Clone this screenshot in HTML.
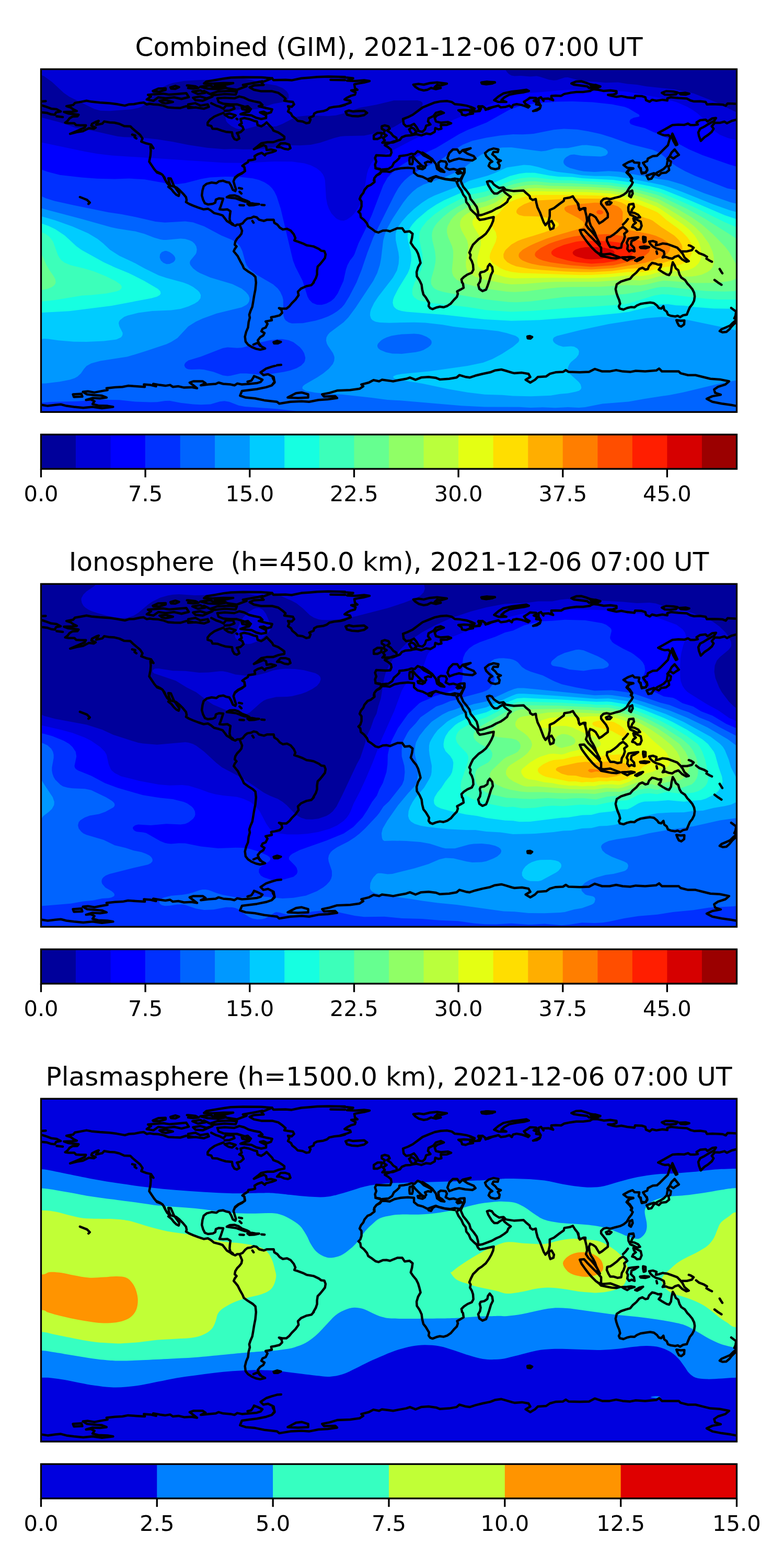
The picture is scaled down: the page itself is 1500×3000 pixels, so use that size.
<!DOCTYPE html>
<html lang="en"><head><meta charset="utf-8"><title>GIM TEC maps 2021-12-06 07:00 UT</title>
<style>
html,body{margin:0;padding:0;background:#fff}
body{width:1500px;height:3000px;overflow:hidden}
svg{display:block}
text{font-family:"DejaVu Sans","Liberation Sans",sans-serif;fill:#000}
.t{font-size:50px;text-anchor:middle}
.k{font-size:41.667px;text-anchor:middle}
.c{fill:none;stroke:#000;stroke-width:4.5;stroke-linejoin:round;stroke-linecap:round}
.f{fill:none;stroke:#000;stroke-width:3.33;stroke-linejoin:miter}
.tk{stroke:#000;stroke-width:3.33}
</style></head><body>
<svg width="1500" height="3000" viewBox="0 0 1500 3000">
<defs>
<clipPath id="mc"><rect x="78.5" y="0" width="1331.0" height="655.9"/></clipPath>
<path id="coast" class="c" d="M79.8,61.5 87.5,61.1M79.8,69.2 88.6,72.0 98.0,75.5 108.4,76.7 116.1,80.9 107.3,82.5 104.9,87.1 98.0,86.4 89.8,83.6 79.8,82.5M108.4,90.2 120.1,91.6M370.0,73.2 356.5,70.8 344.9,74.3 333.2,73.9 321.6,73.2 312.3,69.7 302.9,67.8 293.6,67.3 286.6,66.2 280.8,67.3 275.0,63.8 268.0,64.5 256.3,66.9 247.0,67.3 238.9,69.7 223.7,66.9 209.8,65.0 191.1,63.8 174.8,62.2 165.5,60.4 156.2,62.2 143.4,64.5 139.9,68.5 127.1,70.8 135.2,73.2 139.9,76.7 146.9,80.2 137.6,81.3 122.4,81.8 130.6,84.8 142.2,86.0 150.4,87.1 148.0,90.2 138.7,90.6 132.9,94.1 129.4,98.8 124.7,102.3 131.7,103.4 142.2,103.4 145.7,106.9 153.9,107.4 164.3,107.4 162.0,111.6 151.5,116.3 143.4,119.8 134.1,123.7 146.9,120.4 158.5,118.6 170.2,112.8 179.5,113.9 183.0,111.6 174.8,108.1 176.0,104.6 184.1,100.4 188.8,98.8 186.5,102.3 184.1,106.5 195.8,104.1 199.3,100.0 209.8,101.8 219.1,102.3 228.4,104.6 237.7,108.8 249.4,109.3 254.0,113.9 261.0,119.8 268.0,125.6 272.7,132.6 270.3,138.4 279.6,141.9 289.0,144.2 293.6,151.2 287.8,147.7 288.5,155.9 287.8,165.2 285.5,176.8 290.1,183.8 294.8,190.8 300.6,197.8 309.9,201.3 314.6,207.1 316.9,212.9M252.9,125.1 258.7,126.7 257.5,130.2 261.0,132.6M292.5,41.7 302.9,37.1 316.9,36.6 316.9,39.4 305.3,42.9 293.6,42.9ZM326.2,34.7 335.5,31.9 342.5,34.3 335.5,37.5 327.4,37.1ZM283.1,49.2 293.6,48.2 312.3,46.8 323.9,48.7 337.9,47.5 356.5,45.9 361.2,53.4 347.2,56.9 333.2,53.8 316.9,55.7 302.9,53.8 293.6,60.4 280.8,58.0 289.0,52.2ZM305.3,60.4 316.9,59.2 330.9,62.7 316.9,65.5 309.9,63.8ZM357.7,31.2 370.0,32.4M427.6,83.6 418.2,87.1 410.1,90.6 401.9,96.5 397.3,102.3 397.3,106.9 404.3,108.8 406.6,113.9 415.9,114.4 424.1,117.4 432.2,119.8 443.9,120.9 445.0,127.9 448.5,133.7 453.2,135.4 457.8,132.6 455.5,125.6 453.2,122.1 460.2,120.4 466.0,115.1 463.7,109.3 457.8,106.5 462.5,103.4 460.2,95.3 467.2,93.4 476.5,95.3 485.8,98.8 491.6,100.0 492.8,106.9 499.8,109.3 505.6,105.8 510.2,101.8 514.9,106.9 520.7,112.8 523.1,117.4 532.4,120.9 539.4,125.6 544.0,129.1 544.0,133.7 532.4,136.1 523.1,139.6 511.4,139.6 499.8,141.9 492.8,147.7 485.8,153.1 495.1,149.3 504.4,145.4 509.1,147.7 510.2,154.7 518.4,153.5 527.7,155.9 520.7,158.7 509.1,161.7 506.8,164.7 500.9,160.0 492.8,162.8 487.0,166.3 488.1,172.2 483.5,173.3 475.3,174.5 474.1,178.0 468.3,181.5 463.7,185.0 467.6,187.3 468.3,195.5 462.5,198.9 455.5,202.4 449.7,207.1 447.4,212.9M530.0,148.9 537.0,141.9 546.3,141.9 553.3,144.2 555.7,151.2 551.0,153.5 544.0,152.4 537.0,149.3ZM441.5,16.1 464.8,15.4 499.8,15.6 520.7,17.3 523.1,20.8 546.3,20.3 558.0,21.2 576.6,17.3 592.9,16.1 606.9,14.9 627.9,14.2 660.0,14.9M632.5,20.3 660.0,20.8M520.7,17.3 509.1,21.9 499.8,25.4 504.4,30.1 485.8,31.2 477.6,34.7 485.8,39.4 499.8,42.2 520.7,42.2 532.4,45.2 540.5,51.0 546.3,56.2 544.0,60.4 551.0,61.5 560.3,62.7 562.7,67.3 558.0,72.0 551.0,70.8 553.3,75.5 551.0,80.9 556.8,84.8 559.2,89.5 565.0,94.1 569.6,98.8 579.0,100.0 585.9,103.4 591.8,102.3 594.1,96.5 591.8,93.0 599.9,89.5 601.1,84.8 606.9,81.8 618.6,80.2 625.5,77.8 630.2,73.9 639.5,72.0 651.2,70.8 660.0,68.5M441.5,16.1 427.6,18.0 411.2,20.8 394.9,23.5 390.3,27.3 406.6,27.7 427.6,26.6 446.2,26.6 429.9,30.1 411.2,31.2 429.9,33.6 434.5,36.6 453.2,39.4 462.5,35.9 471.8,32.4 464.8,30.1 490.4,25.4 502.1,23.1M415.9,55.7 429.9,54.5 448.5,55.7 457.8,52.2 467.2,54.5 476.5,59.2 485.8,61.5 497.4,63.8 502.1,68.5 495.1,70.8 509.1,74.3 520.7,76.7 518.4,82.5 511.4,84.8 504.4,81.3 497.4,82.5 509.1,88.3 509.1,93.4 499.8,95.3 490.4,93.0 481.1,88.3 469.5,87.1 460.2,86.0 469.5,82.5 476.5,81.3 480.0,76.2 471.8,73.2 464.8,70.8 453.2,67.3 441.5,67.3 427.6,66.2 418.2,62.7ZM360.0,31.2 374.0,32.9 379.8,35.9 369.3,37.1 360.0,35.9M383.3,33.6 401.9,31.2 413.6,35.9 432.2,35.9 418.2,38.2 397.3,37.1ZM368.2,42.9 383.3,40.6 392.6,45.2 378.6,47.5ZM390.3,41.7 401.9,47.5 415.9,42.9 436.9,41.7 453.2,42.9 450.8,48.7 429.9,47.5 406.6,49.9ZM369.3,54.5 383.3,52.2 394.9,55.7 406.6,52.2 388.0,60.4 374.0,59.2ZM360.0,67.3 374.0,65.0 383.3,69.7 397.3,67.3 399.6,72.0 390.3,75.5 374.0,73.2 360.0,74.3M404.3,65.0 413.6,69.7 420.6,72.0 427.6,75.5 432.2,69.7 446.2,69.7 448.5,75.5 439.2,79.0 429.9,79.5M462.5,73.2 474.1,70.8 478.8,75.5 471.8,77.8 463.7,76.7ZM429.9,87.1 439.2,84.8 450.8,88.3 443.9,93.4 436.9,91.8ZM452.7,94.8 454.1,95.8M650.0,14.9 664.0,16.1 675.6,17.3 664.0,21.9 680.3,22.6 696.6,21.2 707.1,22.6 696.6,25.4 684.9,27.3 678.0,28.9 679.1,35.9 683.8,39.4 672.1,40.6 680.3,44.5 679.1,48.7 671.0,51.0 664.0,54.5 659.3,58.0 669.8,60.4 671.0,63.8 661.6,67.3 650.0,70.8M661.2,81.3 667.5,79.0 675.6,80.9 684.9,80.2 696.6,79.5 702.4,83.6 696.6,87.8 684.9,90.2 673.3,89.5 664.0,87.1ZM790.9,29.6 801.4,28.2 810.7,29.6 822.4,26.6 836.3,25.4 855.0,27.7 843.3,31.2 836.3,30.1 831.7,34.3 843.3,35.9 834.0,38.2 824.7,35.9 817.7,39.4 810.7,40.6 801.4,38.2 794.4,33.6ZM921.4,25.4 931.9,24.2 947.0,25.4 936.5,28.2 927.2,28.2ZM771.1,95.3 780.4,91.8 789.8,87.1 799.1,80.2 808.4,73.2 820.0,68.5 831.7,63.8 843.3,61.5 855.0,60.8 864.3,62.7 870.1,66.9 880.6,67.8 892.3,69.7 901.6,72.5 908.1,75.5 901.6,78.5 887.6,77.8 877.1,78.5 882.9,82.5 884.1,87.1 891.1,88.3 896.9,86.0 905.1,84.8 899.2,81.8 908.6,80.9 917.9,80.2 920.2,75.5 915.5,70.8 924.9,72.0 929.5,75.5 933.0,76.7 941.2,73.2 950.0,70.8M771.1,95.3 772.3,104.6 777.0,109.3 785.1,108.1 792.1,104.6 796.8,110.4 801.4,118.6 808.4,119.8 813.1,115.1 815.4,108.1 823.5,105.8 818.9,100.0 820.0,94.1 829.4,89.5 834.0,83.6 843.3,80.9 849.2,83.6 836.3,88.3 831.7,93.0 834.0,100.0 843.3,102.3 857.3,101.1 863.1,103.4 855.0,106.5 843.3,106.9 844.5,113.9 838.7,115.1 832.9,112.8 831.7,119.8 823.5,124.4 815.4,123.2 806.1,126.7 796.8,124.4 789.8,125.6 785.1,119.8 782.8,115.1 787.4,111.6 792.1,113.9 796.8,119.8 789.8,125.6 785.1,126.7 775.8,127.4 768.8,130.2 765.3,134.9 759.5,137.2 752.5,138.4 743.2,141.9 736.2,145.4 742.0,148.9 747.8,153.5 749.0,159.4 746.7,165.2 738.5,165.6 729.2,165.2 719.9,164.7 717.6,169.8 719.9,176.8 717.6,182.6 718.7,189.6 726.9,190.8 730.4,195.5 726.9,200.1 719.9,203.6 716.4,208.3 715.2,212.9M730.4,192.0 743.2,190.8 750.2,186.1 753.7,179.1 759.5,174.5 764.1,169.8 764.1,166.3 773.5,165.2 780.4,164.0 787.4,161.7 793.3,162.8 799.1,157.0 804.9,159.4 810.7,165.2 817.7,168.7 825.9,173.3 824.7,178.0 818.9,176.8 813.1,179.1 815.4,183.8 810.7,189.6 807.2,185.0 801.4,179.1 794.4,172.2 789.8,166.3M799.1,186.1 808.4,185.0 813.1,188.5 808.4,191.3 800.2,189.6ZM783.9,168.7 789.3,167.5 789.8,176.8 788.6,181.9 783.9,181.5 783.2,174.5ZM808.4,159.4 817.7,165.2 827.0,172.2 834.0,181.5 836.3,190.8 843.3,195.5 850.3,196.6 845.7,192.0 839.8,188.5 838.7,179.1 843.3,175.7 852.7,176.8 855.0,181.5 852.7,188.5 859.6,192.0 867.8,190.8 874.8,193.1 880.6,190.8 888.8,190.3 888.8,197.8 885.3,204.8 881.8,212.9M859.6,160.5 866.6,153.5 874.8,153.5 879.4,160.5 885.3,154.7 900.4,151.2 887.6,157.0 894.6,161.7 906.2,166.3 909.7,171.0 903.9,174.5 889.9,173.3 878.3,171.0 869.0,173.3 859.6,176.8 856.1,169.8ZM730.4,195.5 738.5,195.5 745.5,196.6 754.8,192.0 766.5,189.6 780.4,188.5 792.1,189.6 792.1,197.8 799.1,203.6 808.4,205.9 817.7,210.6 827.0,207.1 834.0,204.8 843.3,208.3 852.7,210.6 862.0,211.8 870.1,212.9M730.4,109.3 736.2,107.4 743.2,109.3 745.5,113.9 740.8,117.4 747.8,122.1 752.5,127.9 758.3,131.4 759.5,137.2 752.5,140.0 743.2,140.7 731.5,140.7 736.2,136.1 732.7,131.4 739.7,126.7 733.9,123.2 736.2,117.4 730.4,113.9ZM715.2,126.7 722.2,122.1 730.4,122.1 729.2,130.2 722.2,133.7 715.2,133.7ZM873.6,197.8 880.6,195.5 882.9,198.3 875.9,200.1ZM921.0,25.4 930.3,24.2 946.6,24.9 941.9,27.3 930.3,28.9 922.1,27.7ZM945.4,59.2 953.6,52.2 962.9,46.4 979.2,42.9 993.2,41.3 1007.2,39.4 1011.8,41.7 1002.5,44.0 988.5,45.9 974.5,48.7 965.2,53.8 959.4,59.2 968.7,62.7 953.6,62.7ZM900.0,73.2 905.8,74.3 907.0,79.0 900.0,82.5M904.7,81.3 914.0,80.2 917.5,76.7 915.1,72.0 923.3,70.8 928.0,74.3 929.1,77.8 934.9,74.3 944.3,72.0 953.6,69.7 958.2,73.2 967.6,72.0 974.5,69.7 979.2,73.2 981.5,68.5 988.5,66.9 997.8,68.5 1004.8,70.8 1010.6,73.2 1013.0,70.8 1006.0,66.9 1002.5,62.2 1009.5,58.0 1014.1,54.5 1025.8,55.2 1025.8,59.2 1021.1,60.4 1027.0,62.7 1025.8,67.3 1033.9,68.5 1033.9,73.2 1028.1,76.7 1020.0,80.2 1027.0,79.0 1032.8,75.5 1034.6,69.7 1030.4,62.7 1030.4,55.7 1035.1,53.8 1039.8,60.4 1037.4,56.9 1049.1,56.2 1058.4,59.2 1054.9,54.5 1054.9,51.0 1063.1,50.6 1073.5,51.0 1079.4,47.5 1091.0,45.2 1102.7,43.6 1115.5,43.6 1129.4,41.7 1132.9,38.2 1144.6,39.4 1155.1,41.7 1167.9,40.6 1179.5,42.2 1179.5,46.4 1172.5,48.7 1163.2,49.2 1172.5,51.5 1179.5,52.9 1188.8,51.5 1200.0,53.8M1093.3,27.3 1102.7,23.5 1112.0,23.1 1121.3,25.9 1129.4,28.9 1142.3,31.2 1148.1,33.6 1137.6,34.7 1127.1,35.9 1123.6,32.9 1109.6,31.2 1098.0,29.6ZM928.0,160.5 934.9,154.7 944.3,151.7 953.6,153.5 952.4,158.7 944.3,158.2 941.9,162.8 947.8,167.5 951.2,172.2 958.2,175.0 952.4,178.0 955.9,183.8 954.7,189.6 947.8,191.3 939.6,189.6 934.9,185.0 937.3,179.1 941.9,176.8 936.1,172.2 930.3,166.3ZM1130.0,31.2 1139.3,30.1 1148.6,32.9 1142.8,35.9 1130.0,40.6M1200.1,53.8 1213.9,55.2 1215.0,51.0 1227.8,51.5 1234.8,53.8 1236.0,59.2 1243.0,62.2 1247.6,58.5 1255.8,60.4 1267.4,58.5 1276.8,59.9 1276.8,55.7 1283.7,53.8 1297.7,55.2 1314.0,56.2 1321.0,59.9 1328.0,61.7 1339.6,61.3 1350.1,62.7 1352.5,67.3 1362.9,66.9 1374.6,67.3 1382.7,67.8 1388.6,70.1 1392.1,65.5 1400.2,65.9 1409.5,66.4M1266.3,45.2 1274.4,42.2 1288.4,42.9 1296.6,44.5 1293.1,48.2 1281.4,49.2 1272.1,48.7ZM1300.0,45.9 1311.7,45.2 1318.7,46.8 1311.7,48.7 1302.4,48.2ZM1409.5,96.5 1400.2,98.8 1390.9,103.4 1386.2,100.4 1376.9,102.7 1367.6,102.3 1361.8,109.3 1365.3,113.9 1361.8,119.8 1354.8,125.6 1347.8,130.2 1340.8,137.2 1337.3,127.9 1336.1,120.9 1339.6,113.9 1346.6,110.4 1355.9,104.6 1366.4,98.8 1369.9,93.4 1362.9,94.1 1353.6,100.0 1350.1,96.5 1339.6,97.6 1332.7,101.8 1335.0,105.8 1328.0,106.9 1321.0,106.9 1316.3,104.1 1309.4,106.5 1297.7,106.0 1286.5,106.9 1279.1,111.1 1269.8,116.3 1259.3,122.1 1267.4,125.6 1272.1,126.7 1279.1,126.0 1282.6,130.2 1280.2,137.2 1277.9,145.4 1269.8,153.5 1262.8,160.5 1257.0,165.6 1248.8,166.3 1239.5,171.0 1238.3,175.7 1230.2,179.1 1232.5,182.6 1238.3,190.8 1236.0,197.8 1227.8,199.6 1225.5,190.8 1222.0,186.1 1223.2,179.1 1213.9,178.7 1210.4,175.0 1202.2,178.0 1192.9,183.3 1199.9,188.5 1211.5,189.6 1202.2,193.1 1198.7,197.8 1204.5,203.6 1209.2,210.6 1206.9,212.9M1286.5,123.2 1290.7,132.6 1295.9,144.2 1293.1,145.4 1288.4,137.2 1284.9,127.9ZM1290.7,153.5 1298.9,164.0 1293.1,167.5 1288.4,171.0 1281.4,166.3 1284.9,159.4ZM1281.4,166.3 1276.8,172.2 1283.7,176.8 1282.6,183.8 1279.1,186.1 1280.2,193.1 1274.4,197.8 1265.1,198.9 1260.4,203.6 1251.1,198.9 1244.1,201.3 1237.2,203.6 1240.6,210.6 1246.5,209.4 1251.1,202.4 1257.0,197.8 1263.9,194.3 1269.8,190.8 1275.6,185.0 1276.8,178.0 1277.9,172.2ZM300.0,196.0 307.0,199.4 311.6,202.9 315.1,209.9 319.8,218.1 324.5,222.7 330.3,223.9 337.3,226.2 343.1,230.9 350.1,237.9 355.9,244.9 357.1,250.7 355.9,254.2 361.7,257.7 369.9,261.2 379.2,264.7 389.7,268.2 397.8,267.0 403.7,270.5 409.5,275.2 418.8,277.5 425.8,279.8 430.4,285.6 433.9,290.3 439.8,293.8 444.4,297.3 450.2,299.6 453.7,297.3 458.4,297.3 460.7,303.1 463.1,308.9 461.9,314.8 458.4,319.4 453.7,324.1 450.2,329.9 449.1,335.7 452.6,339.2 449.1,343.9 447.2,348.5 450.2,352.0 454.9,357.8 459.6,367.2 464.2,375.3 466.6,381.1 474.7,387.0 484.0,392.8 488.7,397.4 489.8,407.9M322.1,208.8 326.8,209.2 329.1,214.6 332.6,222.7 338.4,230.9 343.1,237.9 341.9,242.5 337.3,240.2 332.6,235.6 328.0,229.7 322.1,225.1 325.6,221.6 323.3,215.8ZM467.7,187.8 468.9,194.8 463.1,199.4 456.1,202.9 449.1,208.8 446.8,214.6 449.1,222.7 451.4,229.7 450.2,233.2 445.6,230.9 442.1,222.7 438.6,216.9 432.8,215.8 427.0,213.4 418.8,214.6 414.1,218.1 404.8,216.9 395.5,219.2 389.7,223.9 387.4,232.1 386.2,241.4 388.5,249.5 392.0,256.5 397.8,258.8 407.2,257.7 411.8,255.4 413.0,249.5 418.8,247.2 427.0,247.9 424.6,255.4 422.3,262.3 420.0,268.2 427.0,268.9 435.1,268.2 440.9,271.7 439.8,279.8 439.3,286.8 440.9,292.6 445.6,296.1M458.4,297.3 464.2,295.0 468.9,289.1 473.5,285.6 480.5,284.5 485.2,282.1 491.0,283.3 495.7,288.0 505.0,290.3 510.8,288.0 523.6,288.0 524.8,293.8 530.6,297.3 535.3,303.1 541.1,306.6 549.2,305.4 556.2,308.9 562.1,315.9 565.1,322.9 563.2,327.6 570.2,329.9 579.5,333.4 586.5,336.9 593.5,338.0 600.0,339.2M482.9,290.3 485.2,293.8M433.9,244.9 439.8,241.8 449.1,241.4 456.1,243.7 463.1,248.4 472.4,251.9 477.0,254.2 467.7,253.0 460.7,250.7 451.4,247.2 442.1,246.0ZM473.5,257.7 481.7,256.5 488.7,257.7 495.7,258.1 486.3,260.0 477.0,260.5ZM458.4,260.0 466.6,260.5M500.3,259.5 506.1,260.0M457.2,227.4 463.1,228.6M458.4,234.4 461.9,237.9M152.9,244.6 159.3,247.1 166.4,249.9 171.8,255.3 169.3,257.8M600.1,339.2 610.1,343.9 614.7,347.4 620.6,348.1 622.9,354.4 621.7,361.3 617.1,367.2 612.4,373.0 607.8,377.6 606.6,385.8 606.6,392.8 604.3,399.8 599.6,407.9M718.4,189.7 730.0,192.5 727.7,198.3 720.7,202.9 716.1,208.8 716.5,215.8 709.1,221.6 703.3,223.9 697.4,230.9 695.1,236.7 690.4,242.5 688.1,248.4 691.6,253.0 691.6,262.3 689.3,269.3 685.8,272.8 689.3,276.3 690.4,283.3 696.3,288.0 702.1,295.0 704.4,300.8 711.4,305.4 718.4,310.8 724.2,312.4 732.4,308.9 739.4,308.5 746.3,310.1 753.3,307.1 760.3,304.3 769.6,304.3 774.3,311.3 783.6,310.1 789.4,314.8 788.3,322.9 785.9,332.2 790.6,339.2 796.4,346.2 799.9,353.2 802.3,361.3 804.6,370.7 799.9,378.8 797.1,388.1 797.6,396.3 802.3,403.3 804.6,407.9M824.4,214.6 827.9,208.8 833.7,205.3 841.9,207.6 851.2,209.9 860.0,211.6M820.0,213.4 824.7,214.6 828.2,208.8 832.8,205.3 841.0,207.6 850.3,209.9 861.9,211.1 870.1,209.2 880.6,211.1 884.1,205.3 887.6,197.1 888.7,191.3M873.6,215.8 877.1,223.9 882.9,232.1 886.4,240.2 891.0,246.0 892.2,254.2 896.9,260.0 900.4,268.2 906.2,274.0 912.0,279.1 914.3,284.5 917.8,288.4 927.2,286.8 936.5,284.5 944.6,282.8 943.5,290.3 940.0,298.4 935.3,306.6 929.5,314.8 922.5,320.6 915.5,325.2 909.7,331.1 905.0,335.7 901.5,342.7 898.0,350.9 900.4,355.5 899.2,361.3 902.7,367.2 905.0,374.1 905.7,383.5 902.7,389.3 894.5,392.8 887.6,397.4 882.9,402.1 884.1,407.9M873.6,215.8 880.6,211.1 882.9,216.9 886.4,225.1 892.2,232.1 898.0,240.2 900.4,248.4 906.2,255.4 912.0,263.5 914.3,271.7 915.5,279.8 922.5,278.6 931.8,275.2 941.1,271.7 949.3,267.0 957.4,263.5 964.4,258.8 970.2,254.2 972.6,248.4 977.2,244.2 971.4,240.2 965.6,235.6 962.1,230.9 956.3,234.4 951.6,237.9 945.8,237.9 941.1,233.2 937.6,227.4 934.1,221.6 931.8,215.3 936.5,213.9 941.1,215.3 944.6,220.4 949.3,223.9 955.1,227.4 963.3,226.2 967.9,230.9 983.1,233.2 1001.7,232.1 1006.3,236.7 1013.3,242.5 1014.5,247.2 1019.2,250.2 1025.0,248.4 1026.1,255.4 1028.5,264.7 1033.1,274.0 1036.6,283.3 1040.1,292.6 1043.6,298.4 1049.4,291.5 1051.8,281.0 1051.8,269.3 1059.9,265.8 1070.4,257.7 1078.6,251.9 1079.7,247.2 1090.2,245.6 1096.0,243.2 1100.7,250.7 1106.5,257.7 1107.7,267.0 1111.2,268.2 1117.0,265.8 1120.0,271.7M1050.6,292.6 1055.3,290.3 1059.9,298.4 1058.8,304.3 1052.9,306.6 1050.6,299.6ZM1120.0,265.8 1119.8,271.7 1122.1,281.0 1123.3,290.3 1121.0,297.3 1125.6,304.3 1132.6,311.3 1138.4,318.2 1143.1,325.2 1144.3,332.2 1147.8,334.6 1144.3,327.6 1140.8,320.6 1138.4,313.6 1134.9,306.6 1130.3,299.6 1128.0,292.6 1126.8,283.3 1129.1,277.5 1134.9,279.8 1139.6,283.3 1143.1,289.1 1146.6,295.0 1152.4,291.5 1158.2,286.8 1162.9,283.3 1162.9,276.3 1159.4,269.3 1154.7,263.5 1150.1,257.7 1150.1,253.0 1154.7,248.4 1160.6,247.2 1167.6,248.8 1176.9,246.0 1186.2,243.7 1193.2,240.2 1199.0,235.6 1203.7,227.4 1208.3,221.6 1210.6,216.9 1207.2,212.3 1209.5,208.8 1204.8,201.8 1200.2,198.3 1203.7,192.5 1211.8,190.1M1100.0,249.5 1104.7,255.4 1107.0,262.3 1109.3,269.3 1116.3,265.8 1120.0,265.8M1159.4,255.4 1165.2,253.0 1169.9,255.4 1166.4,258.8 1161.0,258.8ZM1204.8,234.4 1209.5,232.1 1210.6,237.9 1207.2,244.9 1203.7,242.5ZM1109.3,307.8 1117.5,307.1 1123.3,313.6 1130.3,320.6 1137.3,327.6 1144.3,334.6 1150.1,341.5 1150.1,350.9 1146.6,353.7 1139.6,348.5 1132.6,341.5 1125.6,333.4 1118.6,324.1 1112.8,315.9ZM1146.6,353.7 1155.9,354.4 1167.6,353.2 1176.9,356.7 1186.2,360.2 1179.2,362.0 1169.9,361.3 1158.2,359.0 1150.1,357.4ZM1189.7,360.2 1200.2,359.7 1207.2,359.0 1214.1,360.2 1204.8,363.0 1200.2,366.0 1193.2,362.5ZM1215.3,366.0 1223.5,361.3 1230.4,359.7 1225.8,363.7 1218.8,367.2ZM1192.0,301.9 1197.8,306.6 1200.2,310.1 1194.3,314.8 1195.5,320.6 1193.2,327.6 1189.7,333.4 1188.5,341.5 1181.5,342.7 1174.5,340.4 1167.6,340.4 1164.1,334.6 1161.0,327.6 1161.7,321.7 1167.6,320.6 1174.5,315.9 1180.4,311.3 1186.2,305.4ZM1202.5,324.1 1210.6,322.9 1221.1,321.7 1214.1,326.4 1208.3,328.7 1207.2,335.7 1213.0,341.5 1214.1,348.5 1208.3,346.2 1203.7,348.5 1200.2,343.9 1201.3,336.9 1199.0,332.2ZM1230.4,320.6 1235.1,321.7 1235.1,329.9 1231.6,331.1 1230.4,325.2ZM1224.6,340.4 1232.8,339.2 1242.1,340.4 1235.1,342.7 1225.8,342.0ZM1203.7,258.8 1211.8,257.7 1213.0,263.5 1209.5,268.2 1207.2,274.0 1214.1,275.2 1221.1,278.6 1224.6,283.3 1218.8,284.5 1211.8,281.0 1206.0,278.6 1202.5,271.7 1202.0,264.7ZM1211.8,285.6 1218.8,288.0 1225.8,291.5 1227.6,299.6 1224.6,306.6 1218.8,307.1 1214.1,303.1 1209.5,301.9 1211.8,297.3 1216.5,293.8 1213.0,290.3ZM1192.0,297.3 1196.7,292.6 1201.3,286.8M1242.1,329.9 1249.1,328.7 1256.1,331.1 1254.9,336.9 1260.7,335.7 1267.7,333.4 1277.0,334.6 1286.3,338.0 1295.7,341.5 1301.5,347.4 1306.1,353.2 1309.6,360.2 1317.8,367.2 1313.1,368.3 1305.0,363.7 1298.0,356.7 1291.0,359.0 1286.3,362.5 1279.4,361.3 1273.5,359.0 1267.7,360.2 1271.2,354.4 1270.0,348.5 1263.1,345.0 1254.9,342.7 1249.1,339.2 1244.4,334.6ZM1305.0,348.5 1314.3,348.5 1323.6,346.2 1327.1,341.5 1321.3,338.0 1317.8,336.9M1331.8,347.4 1337.6,352.0 1346.9,355.5 1352.7,359.0M1351.6,362.5 1357.4,366.0 1362.1,368.3M1256.1,348.5 1257.2,353.2M1225.8,189.0 1227.0,197.1 1233.9,198.3 1238.6,193.6 1237.4,187.8M489.9,407.8 488.5,422.1 486.2,433.7 484.3,445.4 482.7,454.7 479.2,462.8 476.9,469.8 478.0,475.6 475.7,483.8 474.5,494.3 471.0,502.4 468.7,511.7 469.9,521.1 474.5,526.9 481.5,531.5 489.7,535.0 497.8,536.7 507.2,534.3 500.2,530.4 495.5,524.6 493.2,518.7 497.8,512.9 503.7,509.4 506.0,504.8 500.2,501.3 502.5,496.6 508.3,494.3 511.8,487.3 508.3,482.6 514.1,481.5 520.0,480.3 518.8,474.5 525.8,473.3 535.1,471.0 539.8,466.3 538.6,460.5 533.9,457.0 539.8,458.2 547.9,458.2 553.7,453.5 558.4,447.7 565.4,440.7 571.2,432.5 570.0,425.6 575.9,419.7 586.3,415.1 595.7,413.2 600.3,408.1M485.0,526.9 493.2,523.4 497.8,529.2M523.5,522.2 530.4,519.9 537.4,521.8 531.6,524.6 524.6,524.6ZM804.5,407.9 806.6,412.3 807.8,421.7 810.1,431.0 814.7,436.8 818.2,442.6 821.0,447.3 820.1,453.1 822.9,457.1 827.6,458.9 834.5,456.1 841.5,454.3 848.5,455.4 855.5,453.1 862.5,448.4 868.3,441.5 874.1,435.6 876.0,429.8 874.6,425.2 881.1,421.7 887.0,418.2 885.8,410.0 883.9,407.9M937.0,372.7 941.7,378.6 942.9,386.7 939.4,393.7 935.9,405.4 932.4,415.8 930.0,421.7 923.1,424.5 917.2,420.5 914.9,412.3 918.4,406.5 919.6,399.5 917.9,392.5 919.6,388.6 926.6,387.2 932.4,383.2 933.5,377.4ZM1009.2,511.3 1013.9,510.6 1018.1,512.5 1015.1,515.3 1009.7,514.8ZM1180.1,411.4 1188.2,406.3 1197.6,403.2 1205.7,400.9 1210.4,395.1 1217.4,389.2 1223.2,382.3 1229.0,379.9 1234.8,383.4 1239.5,382.3 1241.8,376.4 1247.6,370.6 1253.5,371.8 1259.3,374.1 1265.1,373.6 1263.9,378.8 1260.4,383.4 1267.4,388.1 1275.6,392.7 1280.2,393.9 1283.7,388.1 1284.9,378.8 1287.2,369.4 1290.7,375.3 1293.1,381.1 1297.7,384.6 1300.0,392.7 1303.5,398.6 1310.5,403.2 1315.2,410.2 1318.7,413.7 1324.5,420.7 1328.0,427.7 1329.2,434.7 1328.0,442.8 1324.5,449.8 1319.8,455.6 1316.3,463.8 1314.0,469.6 1307.0,470.8 1301.2,474.3 1296.6,471.9 1291.9,473.1 1283.7,471.9 1277.9,469.6 1275.6,463.8 1270.9,460.3 1269.3,453.3 1265.1,458.0 1260.4,456.8 1257.0,452.1 1251.1,447.5 1244.1,446.3 1234.8,447.5 1225.5,449.1 1218.5,452.1 1213.9,455.6 1206.9,455.2 1199.9,456.8 1192.9,459.8 1185.9,458.0 1184.0,453.8 1186.4,448.6 1184.7,441.7 1181.7,434.7 1179.4,427.7 1177.8,420.7ZM1294.2,480.1 1302.4,481.3 1309.4,480.8 1308.9,488.2 1303.5,492.4 1298.9,490.6 1295.9,484.8ZM1399.0,456.8 1403.7,460.3 1408.4,463.8 1407.2,471.9 1404.9,476.6 1409.5,478.9M1409.5,483.6 1404.9,487.1 1400.2,491.7 1395.5,497.6 1389.7,502.7 1382.7,503.4 1376.9,501.1 1380.4,497.6 1388.6,494.1 1396.7,490.6 1402.5,484.8 1408.4,480.1M1367.1,403.2 1373.4,407.9 1380.4,412.5M1376.9,382.3 1380.4,388.1 1382.0,390.4M80.0,642.4 91.4,644.2 105.7,642.4 116.4,641.4 127.1,644.2 141.4,646.0 159.3,647.8 177.1,646.0 195.0,648.5 216.4,646.0 205.7,644.2 187.9,643.5 177.1,640.7 180.7,635.3 173.6,631.7 164.6,632.8 177.1,629.2 191.4,629.9 203.9,628.2 195.0,624.6 180.7,623.5 166.4,622.1 158.6,617.4 168.2,616.4 180.7,618.5 195.0,615.7 205.7,613.9 203.9,610.3 220.0,608.5 234.3,607.8 245.0,605.7 259.3,606.7 277.1,607.8 275.4,603.2 287.9,604.2 298.6,606.7 293.2,602.1 305.7,604.2 316.4,605.7 325.4,604.2 330.7,607.8 341.4,606.7 352.1,609.2 366.4,608.5 377.1,610.3 370.0,604.9 362.9,599.6 370.0,597.1 387.9,597.1 393.2,600.7 384.3,604.9 398.6,603.2 412.9,602.1 418.2,599.6 427.1,602.1 441.4,603.2 448.6,604.9 453.9,601.4 462.9,603.2 477.1,602.1 491.4,600.7 498.6,598.5 502.1,594.2 493.2,589.9 486.1,587.1 484.3,590.7 480.7,596.0 473.6,597.8M139.6,622.1 155.7,621.0 157.5,626.4 141.4,627.1ZM530.0,566.4 520.0,569.2 509.3,572.8 498.6,579.9 503.9,585.3 512.9,583.5 523.6,588.9 525.4,599.6 520.0,604.9 509.3,608.5 491.4,612.1 477.1,613.9 462.9,615.7 459.3,624.6 470.0,628.2 487.9,629.9 505.7,633.5 530.0,636.4M530.0,566.4 537.9,565.7M520.0,604.9 525.4,597.8 521.8,590.7M530.0,636.4 534.3,639.9 555.7,636.4 577.1,635.3 591.4,636.4 609.3,632.8 627.1,631.7 645.0,629.2 641.4,625.7 620.0,626.4 616.4,622.1 630.7,619.2 645.0,614.9 670.0,613.9 687.9,611.4 695.0,606.7 691.4,603.2 705.7,599.6 714.6,594.9 725.4,597.1 730.7,594.2 745.0,596.0 752.1,597.1 762.9,594.9 777.1,592.4 784.3,589.9 795.0,594.2 805.7,589.9 820.0,588.9 834.3,590.7 841.4,593.5 859.3,592.4 873.6,589.9 878.9,585.3 891.4,588.9 898.6,589.9 909.3,586.4 923.6,582.8 937.9,579.9 946.8,576.4 959.3,574.6 968.2,577.1 980.0,580.7M550.4,628.2 566.4,619.9 577.1,618.5 589.6,622.1 589.6,628.2 570.0,629.2ZM980.0,580.7 984.3,581.7 998.6,580.7 1011.1,582.8 1014.6,588.9 1005.7,594.2 1014.6,599.6 1023.6,594.2 1028.9,588.9 1045.0,587.8 1052.1,582.8 1062.9,579.9 1077.1,579.2 1082.5,575.7 1087.9,579.2 1109.3,579.9 1127.1,579.2 1137.9,573.5 1152.1,578.2 1166.4,578.2 1178.9,575.7 1191.4,578.2 1205.7,579.2 1216.4,577.1 1234.3,578.2 1255.7,576.4 1261.1,572.8 1266.4,578.2 1284.3,578.2 1298.6,578.2 1302.1,581.7 1316.4,585.3 1330.7,585.3 1345.0,588.9 1359.3,592.4 1377.1,593.5 1395.0,597.1 1387.9,603.2 1373.6,607.8 1366.4,612.8 1368.2,619.2 1378.9,622.8 1362.9,625.7 1352.1,630.7 1362.9,636.4 1380.7,639.9 1398.6,642.4 1408.6,644.2"/>
</defs>
<g transform="translate(0,132.4)">
<text class="t" x="744" y="-25.3">Combined (GIM), 2021-12-06 07:00 UT</text>
<g clip-path="url(#mc)">
<rect x="78.5" y="0" width="1331.0" height="655.9" fill="#00009b"/>
<path fill="#0000d6" fill-rule="evenodd" d="M54.5,-24.0 951.6,-24.0 969.5,4.8 973.4,9.0 978.5,12.2 984.5,13.0 996.5,12.7 1014.5,14.1 1026.5,13.2 1032.5,14.4 1050.5,20.1 1059.5,21.4 1065.5,20.9 1080.5,15.8 1086.5,15.7 1113.5,22.9 1140.5,24.1 1158.5,25.8 1182.5,25.1 1200.5,28.0 1218.5,29.5 1236.5,32.8 1290.5,38.6 1326.5,46.0 1371.5,63.9 1404.5,80.3 1416.5,84.5 1434.5,89.0 1434.5,681.0 54.5,681.0 54.5,81.5 64.2,87.0 75.5,91.5 114.5,101.5 144.5,112.1 177.5,117.9 225.5,128.5 237.5,129.9 267.5,130.6 300.5,134.0 330.5,138.8 360.5,144.9 396.5,150.3 429.5,153.0 447.5,152.4 465.5,153.4 492.5,153.1 504.5,152.2 549.5,145.3 573.5,145.9 594.5,144.5 612.5,140.7 639.5,131.5 651.5,128.6 660.5,127.8 696.5,127.0 726.5,120.9 738.5,116.9 753.5,110.6 771.5,100.2 803.5,75.0 807.5,70.3 808.8,66.0 807.6,63.0 804.5,61.0 798.5,59.5 753.5,59.9 720.5,67.8 687.5,73.9 657.5,84.7 642.5,88.4 627.5,89.5 591.5,88.4 570.5,90.5 564.5,92.2 540.5,104.7 528.5,109.3 519.5,109.9 504.5,107.7 498.5,107.5 492.5,108.4 471.5,114.2 456.5,114.5 450.5,112.8 441.7,108.0 435.5,102.8 432.7,99.0 431.3,93.0 431.9,90.0 436.0,84.0 444.5,79.7 459.5,76.9 483.5,77.2 492.5,76.2 522.5,66.4 543.5,62.5 549.5,59.3 552.6,54.0 552.2,48.0 548.5,42.0 540.8,36.0 528.5,31.0 504.5,27.1 480.5,20.4 465.5,17.8 453.5,17.4 420.5,20.0 381.5,20.5 351.5,22.5 330.5,26.3 321.5,29.4 312.5,33.8 302.0,42.0 285.5,60.3 279.5,65.8 270.5,71.8 264.5,74.2 252.5,76.7 210.5,79.8 192.5,79.4 180.5,76.1 132.5,52.7 121.8,45.0 99.5,24.3 84.5,13.7 69.5,6.7 60.5,4.4 54.5,4.0Z"/>
<path fill="#0000ff" fill-rule="evenodd" d="M1005.5,46.1 1092.5,39.1 1113.5,40.5 1134.5,39.7 1155.5,41.6 1173.5,41.1 1200.5,43.1 1273.9,57.0 1294.6,63.0 1315.4,72.0 1325.4,78.0 1334.0,84.0 1344.1,93.0 1365.5,117.1 1377.5,125.5 1392.5,131.5 1434.5,142.3 1434.5,681.0 54.5,681.0 54.5,134.3 72.5,138.8 162.5,157.7 186.5,161.8 213.5,165.0 429.5,179.0 471.5,179.3 525.5,176.5 558.5,176.9 582.5,180.2 594.5,183.9 605.1,189.0 612.9,195.0 617.7,201.0 620.5,207.0 621.9,213.0 623.9,246.0 626.1,258.0 629.3,267.0 634.3,276.0 642.5,284.8 645.5,286.9 651.5,289.3 657.5,289.9 663.5,287.9 672.5,281.5 678.5,275.0 687.3,261.0 692.5,249.0 696.2,237.0 701.9,201.0 704.4,192.0 710.5,180.0 714.5,175.1 719.4,171.0 744.5,158.9 783.5,138.3 864.5,98.2 966.5,54.7 981.5,50.4Z"/>
<path fill="#0030ff" fill-rule="evenodd" d="M1026.5,65.1 1065.5,62.1 1095.5,61.5 1133.5,63.0 1170.5,67.1 1195.2,72.0 1202.7,75.0 1222.9,87.0 1223.6,90.0 1221.5,91.1 1212.5,92.9 1206.5,95.9 1204.7,99.0 1204.7,102.0 1206.8,105.0 1215.1,108.0 1233.5,112.5 1249.8,120.0 1260.5,124.0 1281.5,133.5 1317.7,153.0 1344.5,164.6 1395.5,182.3 1419.5,189.4 1434.5,192.8 1434.5,681.0 335.6,681.0 318.5,678.7 273.5,680.8 252.5,679.5 204.5,673.2 153.5,672.9 105.5,671.2 87.5,672.5 54.5,679.1 54.5,182.7 90.5,196.2 114.5,202.3 156.5,207.2 186.5,209.4 219.5,210.1 246.5,209.2 276.5,210.8 318.5,218.3 339.5,219.8 354.5,217.8 384.3,210.0 401.2,207.0 429.5,205.6 456.5,205.8 483.5,208.8 495.5,211.9 505.5,216.0 514.8,222.0 520.8,228.0 525.0,234.0 529.4,243.0 537.1,267.0 560.6,366.0 565.3,378.0 579.0,405.0 588.4,435.0 591.7,441.0 597.7,447.0 606.5,450.6 615.5,450.8 624.5,448.4 633.5,443.5 639.7,438.0 646.1,429.0 657.1,405.0 661.7,384.0 664.7,375.0 669.5,366.0 675.5,358.5 678.1,354.0 685.9,333.0 699.5,305.6 711.3,279.0 733.1,222.0 741.5,207.4 753.0,195.0 768.5,183.3 786.5,172.7 834.5,150.7 879.5,123.7 894.5,116.4 930.8,102.0 975.5,77.2 989.8,72.0 1000.6,69.0Z"/>
<path fill="#0064ff" fill-rule="evenodd" d="M1078.9,114.0 1104.5,115.4 1125.5,118.8 1149.5,124.0 1170.5,130.6 1206.5,143.6 1248.5,154.2 1257.5,158.0 1264.5,162.0 1284.5,179.0 1294.6,186.0 1310.7,195.0 1329.5,203.8 1391.9,228.0 1413.5,232.0 1434.5,233.5 1434.5,678.0 1418.4,681.0 1133.1,681.0 1083.5,674.3 1035.5,670.9 987.5,669.4 879.5,668.8 699.5,664.2 666.5,661.8 627.5,656.0 594.5,654.3 567.5,654.4 531.5,650.2 468.5,645.5 456.5,643.4 438.5,636.4 429.5,634.9 420.5,635.9 402.5,641.0 384.5,641.8 369.5,641.1 345.5,638.3 324.5,634.4 315.5,634.5 300.5,636.9 288.5,637.0 258.5,636.0 228.5,632.8 189.5,632.2 147.5,635.3 96.5,636.6 54.5,640.8 54.5,227.8 75.5,241.2 87.5,246.8 104.2,252.0 141.5,260.3 207.5,273.9 231.5,277.4 258.5,282.6 297.5,291.5 315.5,293.4 354.5,291.1 369.5,293.1 390.5,300.7 423.5,318.0 444.5,326.8 453.5,332.6 459.5,339.3 463.7,348.0 469.4,369.0 472.0,375.0 476.1,381.0 490.8,393.0 522.5,411.7 531.5,419.7 536.3,426.0 540.4,435.0 541.8,441.0 542.3,471.0 544.1,477.0 546.5,480.6 552.5,484.7 558.5,486.3 579.5,485.8 603.5,481.2 615.5,477.7 627.5,473.0 636.5,468.5 645.5,462.9 653.7,456.0 658.9,450.0 668.1,435.0 682.1,408.0 691.7,384.0 702.9,351.0 714.5,321.0 754.9,240.0 761.7,228.0 768.2,219.0 774.5,212.0 783.9,204.0 801.5,193.3 843.5,173.2 873.5,151.8 885.5,144.4 903.5,137.0 930.5,131.0 957.5,126.8 981.5,124.7 999.5,124.9 1020.5,123.6 1059.5,115.9ZM516.5,518.6 492.5,523.8 471.5,530.7 462.5,532.8 453.5,533.4 435.5,532.1 426.5,533.5 384.5,549.8 360.5,557.1 355.2,561.0 353.2,564.0 352.7,567.0 354.5,570.8 357.5,573.0 360.5,574.0 366.5,574.7 381.5,574.2 390.5,574.9 408.5,579.2 426.5,585.9 435.5,587.1 441.5,586.4 459.5,582.1 471.5,582.2 504.5,585.1 543.5,579.1 555.5,576.3 567.5,572.1 576.1,567.0 581.9,561.0 583.3,558.0 584.3,552.0 581.9,543.0 578.2,537.0 573.5,531.5 561.5,522.4 552.5,518.5 540.5,516.4 531.5,516.5Z"/>
<path fill="#0098ff" fill-rule="evenodd" d="M1086.5,150.8 1113.5,145.3 1122.5,145.0 1146.5,148.2 1153.1,150.0 1159.0,153.0 1162.0,156.0 1163.0,159.0 1162.0,162.0 1158.5,165.0 1149.5,167.1 1113.5,165.5 1098.5,163.1 1092.5,163.6 1089.5,164.5 1083.5,168.0 1080.5,170.8 1078.6,174.0 1078.0,177.0 1078.6,180.0 1080.6,183.0 1084.3,186.0 1090.6,189.0 1107.5,193.6 1116.5,195.3 1137.5,196.6 1164.5,194.9 1185.5,196.2 1260.5,210.0 1278.5,212.6 1305.5,220.6 1346.9,237.0 1398.5,254.9 1413.5,258.0 1434.5,259.2 1434.5,590.5 1380.5,600.7 1307.9,618.0 1281.5,623.3 1233.5,630.5 1202.8,636.0 1152.5,640.2 1119.5,646.6 1107.5,647.6 1086.5,646.6 1062.5,647.8 1038.5,646.9 1014.5,647.6 993.5,646.3 927.5,646.1 882.5,643.8 768.5,634.0 741.5,632.7 711.5,628.6 654.5,622.3 627.5,621.2 603.5,618.9 585.5,615.5 579.2,612.0 578.3,609.0 579.9,606.0 583.6,603.0 606.5,589.9 618.3,582.0 629.2,573.0 636.8,564.0 639.3,558.0 639.9,552.0 639.4,549.0 637.0,543.0 627.5,529.2 625.4,525.0 623.9,519.0 624.6,513.0 627.5,507.8 630.8,504.0 657.5,484.0 666.5,474.9 680.4,456.0 714.1,405.0 721.7,390.0 726.6,375.0 729.0,363.0 733.3,327.0 736.6,315.0 740.0,306.0 750.5,286.9 771.5,255.0 780.5,243.7 789.5,234.3 798.5,227.1 810.5,220.5 849.9,207.0 876.5,195.3 888.5,188.2 909.7,171.0 921.5,163.1 936.2,156.0 948.5,151.9 960.5,149.9 978.5,149.7 1035.5,157.0 1044.5,156.0 1062.5,151.3ZM768.5,507.0 748.9,510.0 739.8,513.0 733.4,516.0 728.9,519.0 723.2,525.0 722.0,528.0 722.2,531.0 723.9,534.0 727.6,537.0 738.5,541.7 750.5,544.1 768.5,544.6 795.5,541.4 804.5,539.3 810.5,537.0 819.5,531.9 823.8,528.0 825.5,525.0 825.9,522.0 825.0,519.0 822.5,516.0 816.5,512.0 807.5,508.4 801.5,506.9 792.5,506.0ZM54.5,600.2 54.5,255.3 73.9,264.0 84.5,267.7 156.5,286.6 213.5,302.5 225.5,305.1 258.5,310.2 276.5,315.2 294.5,322.2 306.5,325.6 312.5,326.6 318.5,326.6 345.5,324.0 354.5,324.9 363.5,327.5 368.3,330.0 372.5,334.1 375.5,339.0 376.7,345.0 375.7,351.0 374.2,354.0 364.3,366.0 363.2,369.0 363.3,372.0 364.6,375.0 369.4,381.0 377.3,387.0 382.7,390.0 402.5,398.6 444.5,411.2 462.5,419.9 470.2,426.0 475.3,432.0 477.5,438.0 476.7,444.0 474.5,447.8 471.5,450.9 462.5,455.7 414.5,467.3 387.5,477.0 374.6,483.0 360.2,492.0 339.5,514.3 327.5,521.8 318.5,526.0 279.5,539.2 243.5,550.2 192.0,558.0 174.5,562.8 165.5,567.9 160.9,573.0 154.7,582.0 148.2,588.0 142.8,591.0 133.8,594.0 114.5,597.8 87.5,601.0 75.5,601.4ZM315.5,347.5 309.5,349.8 306.2,354.0 305.5,360.0 307.9,366.0 312.5,370.3 318.5,372.8 324.5,372.7 331.9,369.0 334.5,366.0 335.5,363.0 335.0,360.0 333.3,357.0 330.5,354.0 324.5,349.8 318.5,347.7Z"/>
<path fill="#00ccff" fill-rule="evenodd" d="M969.5,188.2 1002.5,183.2 1014.5,183.8 1029.5,187.0 1050.5,193.3 1065.5,196.4 1095.5,199.9 1113.5,202.8 1137.5,204.4 1164.5,204.4 1179.5,205.6 1203.5,209.2 1242.5,216.6 1266.5,221.6 1281.5,226.0 1305.5,234.8 1363.2,258.0 1395.5,269.7 1410.5,273.7 1434.5,277.9 1434.5,505.4 1413.5,501.1 1389.5,495.0 1317.6,480.0 1293.5,475.8 1266.5,473.9 1236.5,476.3 1164.5,487.7 1110.5,499.0 1065.5,510.3 1060.0,513.0 1058.0,516.0 1057.9,519.0 1059.4,522.0 1062.6,525.0 1068.5,528.4 1077.5,531.1 1092.5,530.2 1098.5,530.9 1104.4,534.0 1106.8,537.0 1107.9,540.0 1106.9,546.0 1102.4,552.0 1092.5,560.3 1089.5,564.0 1086.8,570.0 1086.4,573.0 1086.7,576.0 1089.5,582.0 1107.5,598.6 1110.8,603.0 1112.4,609.0 1111.4,612.0 1108.1,615.0 1101.5,617.1 1086.5,620.0 1071.5,621.3 1053.5,624.3 1014.5,625.9 981.5,625.1 960.5,623.4 927.5,622.3 894.5,618.4 858.5,612.1 807.5,601.3 762.1,594.0 753.3,591.0 752.1,588.0 753.5,587.1 757.9,585.0 768.5,583.0 822.5,577.9 894.5,567.7 924.5,561.4 942.5,554.3 960.5,544.5 981.4,531.0 991.9,522.0 993.4,519.0 993.2,516.0 991.0,513.0 986.3,510.0 969.5,504.8 953.2,501.0 921.5,497.6 897.5,496.1 867.5,492.6 846.5,488.8 813.5,485.0 792.5,484.4 744.5,485.3 726.5,484.6 718.3,483.0 712.6,480.0 709.9,477.0 708.0,471.0 708.3,465.0 710.0,459.0 715.8,447.0 723.7,435.0 751.6,399.0 759.5,385.0 762.7,372.0 763.4,360.0 762.4,351.0 757.1,327.0 756.9,315.0 758.4,309.0 762.8,300.0 769.2,291.0 779.8,279.0 792.5,267.1 807.5,255.3 819.5,247.6 831.5,241.5 876.5,224.0 897.5,213.6 933.5,203.6 945.5,199.2ZM54.5,526.6 54.5,274.2 105.5,289.1 138.5,300.9 168.5,313.8 186.5,324.5 197.2,333.0 210.5,345.5 228.5,357.0 258.5,371.1 276.5,381.2 303.5,394.3 318.5,399.4 350.7,408.0 360.5,411.9 369.5,416.7 378.1,423.0 381.5,426.6 384.2,432.0 383.6,438.0 379.0,444.0 372.5,448.4 360.5,453.8 345.5,458.5 327.5,461.2 291.5,462.6 264.5,466.2 244.7,471.0 237.5,473.9 229.5,480.0 227.7,483.0 227.0,486.0 228.4,492.0 234.5,504.0 234.7,507.0 233.7,510.0 231.4,513.0 222.5,517.2 198.5,520.1 165.5,521.5 141.5,521.4 111.5,518.9 92.3,516.0 84.5,515.7 78.5,516.6 72.5,518.6Z"/>
<path fill="#16ffe1" fill-rule="evenodd" d="M1006.6,198.0 1023.5,198.4 1050.5,203.3 1068.5,205.6 1095.5,206.4 1113.5,208.7 1173.5,211.8 1206.5,216.5 1242.5,223.7 1260.5,227.9 1272.5,231.8 1320.5,251.1 1386.5,279.4 1434.5,295.3 1434.5,462.4 1407.5,458.4 1365.5,457.8 1329.5,455.1 1308.5,452.4 1293.5,451.8 1278.5,449.7 1269.5,449.5 1260.5,450.5 1245.5,453.7 1203.5,464.1 1185.5,466.7 1125.5,472.6 1032.5,479.9 978.5,481.3 927.5,478.6 849.5,469.8 777.5,464.2 768.5,462.6 762.5,460.8 758.7,459.0 755.1,456.0 752.9,453.0 751.4,447.0 752.1,441.0 754.2,435.0 761.9,420.0 780.3,390.0 784.0,381.0 786.7,366.0 786.8,357.0 785.7,348.0 780.6,327.0 779.9,321.0 780.2,315.0 781.9,309.0 784.8,303.0 788.9,297.0 796.9,288.0 818.0,270.0 834.5,259.0 849.5,250.9 879.5,237.7 894.5,230.1 927.5,222.5 942.5,218.1 975.5,204.4 993.5,199.8ZM54.5,291.0 66.5,292.7 81.5,295.9 93.2,300.0 105.8,306.0 123.8,318.0 146.6,339.0 156.5,346.2 198.5,369.4 219.5,379.0 246.3,390.0 276.1,405.0 301.8,420.0 306.5,424.7 307.5,429.0 305.6,432.0 300.5,435.0 290.0,438.0 213.5,452.6 132.5,462.8 81.5,465.5 71.6,468.0 54.5,474.4Z"/>
<path fill="#3cffba" fill-rule="evenodd" d="M1011.0,207.0 1026.5,207.4 1068.5,212.3 1095.5,212.5 1110.5,213.9 1164.5,216.7 1206.5,222.3 1236.5,228.6 1263.5,235.8 1299.5,251.0 1329.5,264.5 1386.5,292.5 1417.5,306.0 1434.5,315.9 1434.5,438.5 1410.5,440.5 1371.5,440.6 1350.5,439.1 1278.5,431.1 1266.5,430.7 1251.5,433.2 1203.5,447.8 1191.5,450.0 1134.5,454.4 1077.5,457.7 1014.5,462.7 978.5,464.1 930.5,460.8 894.5,455.0 825.5,447.3 804.5,443.0 798.5,440.8 792.5,436.5 789.5,432.0 788.7,429.0 789.1,420.0 793.3,408.0 805.8,384.0 808.6,369.0 808.2,354.0 802.4,327.0 802.3,315.0 804.0,309.0 806.9,303.0 816.3,291.0 831.5,277.6 849.5,265.0 861.8,258.0 894.5,241.7 900.5,239.8 927.5,234.3 939.5,230.4 948.5,227.1 966.5,217.6 981.5,212.2 996.5,208.7ZM54.5,309.0 66.5,309.2 78.5,311.3 86.8,315.0 93.5,319.9 97.6,324.0 101.6,330.0 110.2,354.0 113.2,360.0 117.5,365.5 123.5,370.1 135.5,375.1 162.5,381.6 180.4,387.0 202.5,396.0 220.7,405.0 229.5,411.0 232.1,414.0 233.0,417.0 232.0,420.0 228.1,423.0 222.5,425.1 203.3,429.0 174.5,432.2 156.5,433.2 105.5,441.5 54.5,447.3Z"/>
<path fill="#66ff90" fill-rule="evenodd" d="M1000.0,216.0 1011.5,214.6 1023.5,214.4 1053.5,217.3 1092.5,218.2 1167.5,222.4 1215.5,229.4 1254.5,239.6 1263.8,243.0 1314.2,267.0 1347.2,285.0 1404.4,321.0 1420.2,333.0 1430.0,342.0 1434.5,346.9 1434.5,414.0 1423.7,420.0 1413.5,423.2 1404.5,424.6 1386.5,425.3 1350.5,424.3 1326.5,422.2 1281.5,416.8 1266.5,416.5 1257.5,417.7 1227.5,425.0 1197.5,430.0 1155.5,433.2 1098.5,434.8 1077.5,436.2 1016.6,444.0 987.5,445.9 972.5,445.4 930.5,440.5 863.1,429.0 848.2,426.0 838.0,423.0 831.9,420.0 828.5,417.2 824.9,411.0 824.5,405.0 825.6,399.0 830.8,381.0 833.1,369.0 833.5,360.0 832.2,348.0 827.1,327.0 826.2,318.0 826.9,312.0 828.7,306.0 831.9,300.0 836.4,294.0 848.4,282.0 861.5,271.5 873.4,264.0 894.5,252.6 900.5,250.3 930.5,243.4 948.5,236.4 963.5,227.4 972.5,223.1 984.5,219.3ZM54.5,420.9 54.5,336.5 60.5,337.3 66.5,339.3 72.5,343.4 78.5,351.3 89.0,375.0 94.3,384.0 102.8,396.0 106.0,402.0 106.6,408.0 105.5,411.0 103.0,414.0 98.8,417.0 90.5,420.4 78.5,422.8Z"/>
<path fill="#90ff66" fill-rule="evenodd" d="M1006.6,222.0 1026.5,221.1 1050.5,223.1 1125.5,224.9 1167.5,227.6 1200.5,232.0 1215.5,235.0 1236.5,240.9 1260.5,248.9 1300.8,270.0 1323.5,283.4 1342.9,297.0 1363.4,315.0 1386.9,339.0 1393.9,348.0 1401.2,360.0 1409.4,375.0 1411.8,381.0 1412.8,390.0 1411.1,396.0 1409.1,399.0 1405.7,402.0 1398.5,404.8 1380.5,407.5 1365.5,408.8 1329.5,409.2 1281.5,405.0 1269.5,404.6 1260.5,406.0 1236.5,411.9 1224.5,413.5 1197.5,413.2 1146.5,416.4 1086.5,416.8 1068.5,417.7 1043.9,420.0 1008.5,424.9 984.5,426.4 969.5,425.5 936.5,420.9 909.5,415.6 885.5,408.9 873.5,402.5 867.6,396.0 865.3,390.0 864.7,384.0 867.1,360.0 867.1,348.0 865.1,339.0 857.3,321.0 855.1,312.0 855.1,306.0 856.5,300.0 863.0,288.0 868.0,282.0 876.5,274.4 897.5,262.1 915.5,256.1 927.5,253.6 942.5,247.9 951.5,243.5 966.5,233.3 975.5,229.3 990.5,225.0Z"/>
<path fill="#baff3c" fill-rule="evenodd" d="M1010.7,228.0 1026.5,227.3 1050.5,228.7 1122.5,229.9 1167.5,232.7 1198.0,237.0 1211.3,240.0 1231.5,246.0 1257.5,255.3 1293.1,276.0 1312.0,288.0 1327.8,300.0 1343.1,315.0 1356.0,333.0 1363.0,348.0 1365.3,357.0 1366.1,366.0 1365.5,372.0 1363.6,378.0 1359.2,384.0 1353.5,388.2 1342.5,393.0 1332.5,395.3 1323.5,396.5 1308.5,396.9 1269.5,395.1 1260.5,396.5 1239.5,402.3 1224.5,404.0 1197.5,402.7 1143.5,406.5 1062.5,406.8 1038.5,407.9 1002.5,410.9 978.5,411.6 966.5,410.3 924.5,401.8 909.5,397.0 902.2,393.0 895.1,387.0 893.3,384.0 891.6,378.0 891.2,369.0 895.4,345.0 895.7,336.0 893.6,327.0 883.4,309.0 880.1,300.0 880.5,291.0 883.4,285.0 889.4,279.0 900.5,272.1 915.5,266.1 930.5,262.1 945.5,256.0 951.5,252.6 963.5,242.8 972.5,237.8 990.5,231.8Z"/>
<path fill="#e4ff13" fill-rule="evenodd" d="M1015.8,234.0 1029.5,233.5 1122.5,235.2 1167.5,237.9 1191.5,241.6 1209.0,246.0 1227.8,252.0 1254.5,262.3 1263.1,267.0 1306.8,297.0 1317.7,306.0 1329.0,318.0 1336.5,330.0 1340.6,342.0 1341.6,354.0 1341.1,360.0 1339.4,366.0 1336.0,372.0 1329.7,378.0 1324.7,381.0 1317.0,384.0 1302.5,386.5 1272.5,386.6 1263.5,387.3 1242.5,393.7 1227.5,395.9 1197.5,394.9 1164.5,398.0 1125.5,399.9 1059.5,399.0 984.5,400.0 975.5,399.4 966.5,397.8 933.5,388.0 921.5,382.9 915.9,378.0 914.4,375.0 913.1,369.0 913.7,360.0 920.1,336.0 919.9,327.0 916.6,318.0 907.4,303.0 904.5,297.0 903.9,291.0 904.9,288.0 909.5,282.8 915.7,279.0 948.5,265.8 963.5,251.8 972.5,245.7 993.5,238.2Z"/>
<path fill="#ffde00" fill-rule="evenodd" d="M1006.9,243.0 1017.5,241.3 1032.5,240.5 1095.5,240.5 1149.5,241.9 1167.5,243.4 1183.5,246.0 1194.5,248.9 1212.5,255.1 1242.9,267.0 1257.5,273.7 1263.5,278.1 1275.5,288.9 1296.5,304.1 1305.5,311.5 1314.7,321.0 1319.1,327.0 1322.3,333.0 1324.5,342.0 1324.2,348.0 1322.9,354.0 1320.2,360.0 1315.6,366.0 1308.5,371.2 1302.5,373.8 1290.5,376.6 1263.5,379.7 1242.5,386.2 1230.5,388.2 1200.5,388.1 1167.5,391.7 1131.5,393.7 1110.5,393.8 996.8,390.0 978.5,387.8 966.5,384.6 958.2,381.0 945.5,372.9 941.0,369.0 937.4,363.0 936.9,360.0 937.5,354.0 939.7,348.0 948.4,330.0 950.4,321.0 948.6,312.0 939.1,297.0 938.6,291.0 942.5,285.0 954.5,275.7 967.2,261.0 972.5,256.4 979.8,252.0 986.9,249.0Z"/>
<path fill="#ffae00" fill-rule="evenodd" d="M1029.5,251.0 1095.5,247.4 1146.5,247.9 1173.5,250.7 1189.1,255.0 1195.0,258.0 1208.9,267.0 1218.5,276.2 1224.5,280.7 1230.5,283.4 1242.5,286.8 1248.5,289.6 1266.7,303.0 1290.5,318.6 1299.1,327.0 1304.4,336.0 1305.3,339.0 1305.5,344.9 1303.7,351.0 1299.5,356.9 1296.5,359.6 1287.5,364.9 1242.5,378.3 1230.5,380.4 1200.5,381.9 1170.5,386.0 1134.5,388.1 1110.5,388.1 1081.8,387.0 1035.5,384.0 1011.5,381.6 987.5,377.1 978.5,373.7 970.4,369.0 964.8,363.0 963.5,360.0 963.2,354.0 965.8,348.0 967.9,345.0 978.5,335.4 990.5,328.7 999.5,325.2 1041.5,312.0 1057.8,306.0 1064.1,303.0 1068.2,300.0 1069.3,297.0 1068.0,294.0 1063.9,291.0 1056.5,287.6 1044.5,283.7 1032.5,281.9 1002.5,281.0 993.5,279.1 989.2,276.0 987.9,273.0 988.4,270.0 990.2,267.0 993.2,264.0 1003.1,258.0 1017.5,252.9Z"/>
<path fill="#ff7e00" fill-rule="evenodd" d="M1107.5,258.0 1137.5,255.4 1152.5,255.6 1170.5,258.4 1182.5,262.7 1188.2,267.0 1191.5,273.0 1191.1,294.0 1193.4,300.0 1195.9,303.0 1200.5,306.2 1206.5,308.3 1242.5,315.1 1254.5,318.7 1266.9,324.0 1275.9,330.0 1280.9,336.0 1282.4,342.0 1280.8,348.0 1275.5,353.8 1270.3,357.0 1248.7,366.0 1233.5,370.5 1173.5,380.6 1131.5,383.1 1074.5,380.3 1032.5,375.4 1017.5,372.4 1008.5,369.7 1000.0,366.0 995.7,363.0 993.2,360.0 992.3,357.0 992.6,354.0 994.0,351.0 1000.4,345.0 1011.0,339.0 1023.7,333.0 1044.5,324.7 1062.5,318.6 1105.7,306.0 1113.7,303.0 1116.5,300.6 1118.1,297.0 1117.2,294.0 1115.0,291.0 1107.0,285.0 1083.8,273.0 1080.9,270.0 1079.7,267.0 1080.6,264.0 1086.5,261.0Z"/>
<path fill="#ff4e00" fill-rule="evenodd" d="M1143.4,270.0 1146.5,269.4 1151.2,270.0 1154.5,273.0 1153.4,276.0 1149.5,277.8 1146.5,277.9 1143.5,276.8 1142.3,276.0 1140.7,273.0ZM1113.1,318.0 1158.5,315.6 1173.5,316.3 1188.5,318.9 1221.9,327.0 1229.8,330.0 1238.6,336.0 1241.4,339.0 1243.0,342.0 1243.4,345.0 1242.6,348.0 1240.6,351.0 1233.3,357.0 1221.3,363.0 1212.7,366.0 1173.5,375.1 1131.5,378.0 1092.5,375.1 1053.5,369.7 1039.0,366.0 1031.1,363.0 1026.3,360.0 1023.8,357.0 1023.3,354.0 1024.2,351.0 1026.5,348.0 1034.5,342.0 1050.5,333.9 1062.5,329.5 1083.5,323.4 1098.5,319.8Z"/>
<path fill="#ff1e00" fill-rule="evenodd" d="M1101.7,330.0 1110.5,328.8 1149.5,328.6 1167.5,329.5 1182.5,331.4 1194.5,334.1 1206.0,339.0 1209.8,342.0 1211.9,345.0 1212.6,348.0 1211.7,351.0 1209.4,354.0 1205.1,357.0 1194.5,361.6 1176.5,367.2 1155.5,370.6 1131.5,372.1 1102.1,369.0 1086.8,366.0 1065.1,360.0 1058.8,357.0 1055.6,354.0 1054.7,351.0 1055.7,348.0 1059.0,345.0 1064.2,342.0 1079.0,336.0Z"/>
<path fill="#d60000" fill-rule="evenodd" d="M1110.2,342.0 1119.5,340.6 1131.5,340.0 1155.5,341.3 1170.0,345.0 1174.8,348.0 1176.0,351.0 1174.1,354.0 1169.8,357.0 1152.5,362.5 1131.5,363.9 1120.3,363.0 1104.5,358.8 1100.2,357.0 1096.6,354.0 1095.5,351.0 1097.0,348.0 1101.2,345.0Z"/>
<use href="#coast"/>
</g>
<rect class="f" x="78.5" y="0" width="1331.0" height="655.9"/>
<rect x="78.50" y="699.0" width="67.15" height="65.7" fill="#00009b"/>
<rect x="145.05" y="699.0" width="67.15" height="65.7" fill="#0000d6"/>
<rect x="211.60" y="699.0" width="67.15" height="65.7" fill="#0000ff"/>
<rect x="278.15" y="699.0" width="67.15" height="65.7" fill="#0030ff"/>
<rect x="344.70" y="699.0" width="67.15" height="65.7" fill="#0064ff"/>
<rect x="411.25" y="699.0" width="67.15" height="65.7" fill="#0098ff"/>
<rect x="477.80" y="699.0" width="67.15" height="65.7" fill="#00ccff"/>
<rect x="544.35" y="699.0" width="67.15" height="65.7" fill="#16ffe1"/>
<rect x="610.90" y="699.0" width="67.15" height="65.7" fill="#3cffba"/>
<rect x="677.45" y="699.0" width="67.15" height="65.7" fill="#66ff90"/>
<rect x="744.00" y="699.0" width="67.15" height="65.7" fill="#90ff66"/>
<rect x="810.55" y="699.0" width="67.15" height="65.7" fill="#baff3c"/>
<rect x="877.10" y="699.0" width="67.15" height="65.7" fill="#e4ff13"/>
<rect x="943.65" y="699.0" width="67.15" height="65.7" fill="#ffde00"/>
<rect x="1010.20" y="699.0" width="67.15" height="65.7" fill="#ffae00"/>
<rect x="1076.75" y="699.0" width="67.15" height="65.7" fill="#ff7e00"/>
<rect x="1143.30" y="699.0" width="67.15" height="65.7" fill="#ff4e00"/>
<rect x="1209.85" y="699.0" width="67.15" height="65.7" fill="#ff1e00"/>
<rect x="1276.40" y="699.0" width="67.15" height="65.7" fill="#d60000"/>
<rect x="1342.95" y="699.0" width="66.55" height="65.7" fill="#9b0000"/>
<rect class="f" x="78.5" y="699.0" width="1331.0" height="65.7"/>
<line class="tk" x1="78.5" y1="764.7" x2="78.5" y2="780.9"/>
<text class="k" x="78.5" y="826.9">0.0</text>
<line class="tk" x1="278.1" y1="764.7" x2="278.1" y2="780.9"/>
<text class="k" x="278.1" y="826.9">7.5</text>
<line class="tk" x1="477.8" y1="764.7" x2="477.8" y2="780.9"/>
<text class="k" x="477.8" y="826.9">15.0</text>
<line class="tk" x1="677.5" y1="764.7" x2="677.5" y2="780.9"/>
<text class="k" x="677.5" y="826.9">22.5</text>
<line class="tk" x1="877.1" y1="764.7" x2="877.1" y2="780.9"/>
<text class="k" x="877.1" y="826.9">30.0</text>
<line class="tk" x1="1076.8" y1="764.7" x2="1076.8" y2="780.9"/>
<text class="k" x="1076.8" y="826.9">37.5</text>
<line class="tk" x1="1276.4" y1="764.7" x2="1276.4" y2="780.9"/>
<text class="k" x="1276.4" y="826.9">45.0</text>
</g>
<g transform="translate(0,1117.3)">
<text class="t" x="744" y="-25.3">Ionosphere &#160;(h=450.0 km), 2021-12-06 07:00 UT</text>
<g clip-path="url(#mc)">
<rect x="78.5" y="0" width="1331.0" height="655.9" fill="#00009b"/>
<path fill="#0000d6" fill-rule="evenodd" d="M188.0,-24.0 802.8,-24.0 810.0,-6.0 812.9,9.0 810.5,16.0 804.5,22.1 795.5,27.1 772.9,36.0 741.5,46.2 681.5,61.8 663.5,65.5 645.5,68.0 627.5,68.9 615.5,68.6 609.5,67.6 600.5,64.5 593.2,60.0 579.5,46.7 567.5,37.3 558.5,32.2 543.5,25.8 528.5,18.2 522.5,18.3 504.5,22.5 495.5,23.1 468.5,17.7 453.5,16.3 444.5,17.1 426.5,21.7 414.5,22.9 390.5,21.3 372.5,21.6 342.5,19.8 330.5,20.4 321.5,21.9 306.5,26.3 291.5,33.7 283.8,39.0 264.5,55.2 255.5,60.8 243.5,64.7 231.5,65.4 219.5,63.9 204.5,60.6 186.5,55.8 174.5,51.7 168.5,48.8 162.9,45.0 159.5,41.4 156.5,36.0 155.4,30.0 155.8,27.0 159.5,20.1 165.5,14.3 180.5,4.0 183.9,0.0 186.5,-9.0ZM1072.6,30.0 1086.5,28.6 1113.5,32.0 1143.5,31.8 1191.5,34.2 1218.5,36.8 1242.5,35.8 1254.5,37.2 1275.5,44.4 1299.5,47.8 1311.5,50.7 1352.2,66.0 1363.6,72.0 1376.1,81.0 1388.4,93.0 1395.1,102.0 1398.8,111.0 1399.2,117.0 1398.6,120.0 1394.1,126.0 1377.5,139.6 1371.5,146.4 1367.6,156.0 1366.6,168.0 1368.7,180.0 1375.9,198.0 1380.9,207.0 1394.6,225.0 1403.7,234.0 1410.5,238.7 1422.0,243.0 1434.5,245.4 1434.5,681.0 54.5,681.0 54.5,233.4 71.6,246.0 84.5,252.5 105.1,258.0 165.5,269.1 195.5,278.7 216.5,288.5 264.5,303.8 273.5,305.3 300.5,307.4 354.5,302.7 360.5,303.5 368.8,306.0 375.5,309.5 390.5,320.7 413.5,342.0 424.9,351.0 465.5,372.4 504.4,399.0 516.5,405.3 531.5,411.3 540.5,416.7 548.2,423.0 564.5,439.6 570.5,444.2 576.5,447.5 585.5,450.2 597.5,450.5 609.5,448.9 624.5,443.6 630.5,440.2 636.5,435.2 643.7,426.0 654.4,405.0 682.6,345.0 689.2,333.0 698.2,306.0 701.8,291.0 709.2,276.0 715.3,258.0 720.5,248.0 723.8,234.0 728.6,219.0 735.1,180.0 738.5,168.0 745.8,153.0 755.5,138.0 765.3,126.0 777.4,114.0 786.5,106.6 807.5,92.4 834.5,78.0 864.5,64.6 900.5,52.6 930.5,44.8 966.5,37.9 1005.5,36.1 1029.5,33.3 1056.5,33.2ZM484.8,48.0 489.5,46.2 495.5,46.0 501.5,48.5 504.5,51.2 508.7,57.0 513.5,67.6 516.8,78.0 517.4,87.0 516.1,90.0 503.5,102.0 492.5,109.8 480.5,114.3 474.5,114.9 467.3,114.0 460.0,111.0 451.6,105.0 449.8,102.0 449.3,99.0 450.0,96.0 459.5,73.4 465.5,63.6 474.5,54.3ZM296.2,162.0 303.5,161.6 330.5,165.9 354.5,166.5 381.5,169.7 399.5,169.3 420.5,166.9 426.5,167.0 435.5,168.7 450.5,173.2 477.5,176.3 489.5,175.2 507.5,170.5 522.5,165.5 534.5,163.2 546.5,162.1 564.5,162.6 581.6,165.0 603.5,170.7 609.2,174.0 612.1,177.0 613.4,180.0 613.5,183.0 611.4,189.0 606.4,195.0 597.5,201.0 585.5,206.9 576.5,210.1 558.5,214.7 549.5,215.8 528.5,216.3 510.5,220.5 504.5,223.3 498.5,227.5 477.5,246.3 468.5,250.3 459.5,251.3 450.5,249.0 408.1,231.0 398.7,225.0 375.5,207.3 357.2,198.0 336.5,185.1 294.6,171.0 291.8,168.0 292.1,165.0Z"/>
<path fill="#0000ff" fill-rule="evenodd" d="M1026.5,52.2 1089.5,48.2 1167.5,50.5 1197.5,55.1 1221.5,56.5 1242.5,60.2 1254.5,63.2 1294.3,78.0 1306.2,87.0 1310.5,93.0 1312.4,99.0 1311.8,105.0 1307.3,117.0 1303.5,132.0 1302.1,141.0 1301.3,156.0 1301.4,177.0 1302.4,186.0 1305.8,195.0 1309.8,201.0 1314.5,206.0 1320.2,210.0 1354.0,231.0 1374.5,242.0 1395.5,256.7 1410.5,262.9 1434.5,268.5 1434.5,681.0 54.5,681.0 54.5,261.2 78.5,270.2 117.5,279.1 138.8,285.0 162.5,294.0 174.4,300.0 191.8,312.0 200.6,321.0 203.9,327.0 207.9,345.0 211.7,354.0 213.8,357.0 219.5,361.7 231.5,367.9 267.5,376.9 303.5,383.8 324.5,385.4 348.5,384.7 360.5,386.0 381.5,392.2 399.5,398.9 411.5,402.2 426.5,404.8 453.5,407.4 465.5,410.9 479.0,417.0 489.7,426.0 496.9,435.0 509.6,459.0 515.9,468.0 522.5,473.5 531.5,476.9 549.5,479.3 570.5,479.2 588.5,478.0 609.5,474.4 630.5,468.5 645.5,461.8 657.8,453.0 663.5,447.0 667.7,441.0 670.8,435.0 676.6,420.0 689.2,396.0 701.5,369.0 712.9,342.0 730.1,297.0 754.3,243.0 768.7,204.0 773.8,195.0 777.5,190.8 796.1,177.0 804.9,168.0 809.7,159.0 816.7,138.0 819.9,132.0 825.1,126.0 837.0,117.0 864.5,101.7 897.5,88.1 948.5,70.3 963.5,65.6 1002.5,56.1Z"/>
<path fill="#0030ff" fill-rule="evenodd" d="M1056.5,70.5 1080.5,68.5 1119.5,69.4 1151.9,75.0 1159.7,78.0 1167.7,84.0 1169.7,87.0 1170.1,90.0 1167.2,102.0 1167.6,105.0 1171.2,111.0 1174.9,114.0 1191.5,123.4 1206.5,130.6 1212.5,134.4 1224.5,143.9 1229.9,150.0 1233.1,156.0 1234.5,165.0 1233.2,171.0 1228.7,180.0 1228.1,183.0 1228.6,186.0 1232.2,192.0 1241.1,201.0 1245.7,204.0 1254.5,207.4 1269.5,215.0 1287.5,217.8 1293.5,220.5 1305.5,228.0 1326.5,234.4 1341.5,243.6 1363.3,252.0 1389.5,267.8 1434.5,287.0 1434.5,674.5 1410.5,675.9 1362.5,673.6 1311.5,675.2 1257.5,674.1 1194.5,678.1 1164.5,679.1 1113.5,676.9 1074.5,677.1 1032.5,674.8 978.5,675.2 939.5,677.8 921.5,678.2 864.5,675.9 798.5,675.5 744.5,677.5 713.7,681.0 54.5,681.0 54.5,280.7 84.5,286.7 99.9,291.0 122.1,300.0 132.4,306.0 138.8,312.0 144.8,321.0 146.3,330.0 142.5,348.0 143.1,351.0 145.0,354.0 149.7,357.0 174.5,366.9 200.7,381.0 225.5,390.2 273.5,404.0 306.5,409.3 330.5,411.7 351.7,417.0 358.4,420.0 366.9,426.0 369.8,429.0 373.0,435.0 373.6,441.0 372.5,444.7 369.5,449.3 361.0,456.0 354.5,458.9 345.5,460.2 318.5,458.9 288.5,461.7 264.5,460.2 258.5,461.7 254.5,465.0 254.2,468.0 256.1,471.0 258.5,472.6 261.5,474.0 273.5,475.1 279.5,476.5 306.8,492.0 315.5,495.5 321.5,496.8 327.5,497.3 342.5,495.9 354.5,496.1 384.5,502.1 417.5,505.6 450.5,504.5 465.5,504.8 477.5,506.6 495.5,511.9 510.6,519.0 515.2,522.0 517.3,525.0 516.9,528.0 514.4,531.0 501.5,538.9 497.2,543.0 495.5,546.2 495.3,552.0 499.1,558.0 504.5,561.3 519.5,566.2 528.5,566.7 543.5,565.2 561.5,560.1 567.5,555.2 568.9,552.0 569.2,549.0 567.5,543.0 564.5,539.0 553.7,528.0 552.7,525.0 553.5,522.0 555.8,519.0 559.8,516.0 573.5,508.9 624.5,490.9 657.5,477.4 675.9,465.0 693.3,447.0 703.2,432.0 711.8,417.0 721.0,405.0 725.8,393.0 732.4,381.0 739.4,360.0 741.4,345.0 741.9,327.0 744.4,315.0 749.1,300.0 761.3,276.0 780.5,248.9 802.5,228.0 807.5,225.1 819.5,220.5 831.5,214.4 847.7,210.0 867.5,202.9 871.3,201.0 878.3,195.0 882.6,189.0 885.0,180.0 884.9,150.0 886.2,141.0 890.0,132.0 897.5,123.1 906.4,117.0 918.5,111.2 948.5,100.7 966.5,92.8 981.5,89.3 1002.5,79.2 1032.5,71.5Z"/>
<path fill="#0064ff" fill-rule="evenodd" d="M1101.5,126.0 1107.5,125.5 1116.5,127.0 1143.5,138.1 1154.5,144.0 1161.5,149.1 1164.6,153.0 1164.7,156.0 1162.3,159.0 1154.1,162.0 1134.5,163.3 1116.5,166.3 1089.5,163.7 1074.5,159.3 1059.5,157.0 1056.6,156.0 1054.1,153.0 1054.5,150.0 1056.2,147.0 1067.0,138.0 1080.0,132.0ZM945.7,144.0 954.5,142.2 963.5,141.9 975.5,143.3 981.5,144.8 986.6,147.0 990.9,150.0 998.8,159.0 1005.5,163.5 1015.8,168.0 1038.5,174.9 1060.0,186.0 1075.1,192.0 1102.4,198.0 1137.5,204.2 1170.5,203.3 1206.5,208.3 1215.5,210.7 1263.5,227.1 1281.5,231.7 1302.5,240.2 1317.5,245.3 1338.5,255.6 1356.5,262.6 1377.5,274.4 1415.3,294.0 1424.3,300.0 1431.5,306.0 1434.5,308.8 1434.5,601.1 1428.5,606.1 1419.5,611.9 1412.4,615.0 1404.5,616.8 1356.5,619.2 1326.5,623.9 1287.5,627.8 1257.5,632.4 1221.5,635.5 1194.5,639.6 1164.5,646.1 1152.5,648.0 1137.5,648.8 1113.5,647.9 1089.5,651.8 1074.5,652.9 1041.5,650.3 1011.5,651.8 978.5,649.5 948.5,651.1 927.5,651.0 906.5,649.2 876.5,644.9 840.5,643.5 807.5,640.6 768.5,639.7 735.5,636.4 696.5,636.9 678.5,634.6 642.5,627.0 624.5,625.1 612.5,625.3 597.5,626.8 573.5,632.6 561.5,633.8 549.5,632.6 534.5,628.4 528.5,627.7 525.5,628.6 515.0,636.0 507.5,639.7 501.5,641.3 492.5,641.8 483.5,640.1 477.5,637.7 469.8,633.0 456.5,622.6 450.5,620.0 444.5,618.6 432.5,618.5 408.5,622.9 390.5,623.7 374.5,621.0 354.5,614.3 348.5,613.1 339.5,613.2 324.5,615.5 315.5,615.9 309.5,614.5 306.0,612.0 304.6,609.0 304.9,606.0 307.2,603.0 313.3,600.0 327.5,596.5 348.5,594.7 360.5,592.7 369.5,590.3 381.5,585.9 387.5,584.7 393.5,584.7 399.5,585.8 414.5,591.5 426.5,594.9 456.5,600.4 462.5,600.3 483.5,597.7 495.5,597.3 540.5,601.7 561.5,600.5 585.5,596.1 606.5,587.6 618.5,580.5 624.5,575.7 630.5,569.2 633.5,564.0 635.1,558.0 634.9,549.0 628.8,531.0 628.0,525.0 629.2,519.0 632.8,513.0 636.5,509.4 644.5,504.0 666.5,492.7 678.5,485.0 687.5,478.0 698.3,468.0 721.0,444.0 725.8,438.0 733.5,426.0 744.5,415.7 769.4,384.0 772.9,375.0 774.5,360.0 773.6,348.0 768.7,330.0 768.5,318.0 769.3,309.0 771.8,300.0 779.6,285.0 783.7,279.0 795.5,266.4 804.7,255.0 834.5,234.4 846.5,230.5 861.5,223.9 873.5,221.8 888.5,216.1 922.9,207.0 930.8,204.0 935.8,201.0 942.7,192.0 946.6,183.0 946.5,180.0 945.4,177.0 939.5,168.0 938.4,165.0 936.5,156.0 938.1,150.0 940.8,147.0ZM54.5,623.2 54.5,300.9 78.5,303.1 90.5,308.4 97.9,315.0 101.3,321.0 102.7,327.0 102.6,333.0 99.4,351.0 99.3,357.0 100.4,363.0 102.5,369.0 105.5,374.1 115.4,384.0 120.5,387.1 129.5,389.8 138.5,390.9 162.5,391.9 174.5,394.4 202.7,408.0 212.6,414.0 216.6,417.0 218.9,420.0 219.6,423.0 218.3,426.0 216.5,427.8 201.5,435.9 189.5,440.3 171.5,443.2 161.7,447.0 153.5,452.1 150.5,456.0 149.1,462.0 150.7,468.0 155.5,474.0 159.5,477.1 165.5,480.0 198.5,489.7 219.5,500.0 240.5,504.9 255.5,510.0 270.5,513.0 278.8,516.0 285.5,519.3 288.8,522.0 291.0,525.0 291.9,528.0 291.4,531.0 288.5,534.3 283.0,537.0 255.5,543.1 209.2,555.0 202.1,558.0 198.1,561.0 195.6,564.0 194.6,567.0 194.4,570.0 195.5,573.8 201.5,580.7 213.5,587.6 217.4,591.0 219.1,594.0 218.5,597.0 216.5,598.2 212.8,600.0 207.5,601.0 195.5,601.6 177.5,605.5 159.5,607.3 135.5,611.5 81.5,616.0 69.5,618.6Z"/>
<path fill="#0098ff" fill-rule="evenodd" d="M983.5,201.0 990.5,199.3 1002.5,199.1 1137.5,212.9 1161.5,212.1 1170.5,212.6 1203.5,217.4 1233.5,226.3 1281.5,242.3 1314.5,255.8 1353.5,274.5 1392.3,297.0 1408.5,309.0 1416.8,321.0 1434.5,354.5 1434.5,440.1 1428.5,443.3 1419.5,446.3 1377.5,452.3 1326.5,463.8 1281.5,470.0 1241.7,477.0 1218.5,482.6 1179.5,488.5 1164.5,491.8 1157.2,495.0 1152.6,498.0 1150.4,501.0 1150.1,504.0 1152.6,510.0 1158.5,515.4 1170.5,522.0 1194.5,531.3 1199.6,534.0 1201.5,537.0 1202.0,540.0 1200.5,544.7 1197.5,547.6 1194.5,549.1 1185.5,551.7 1173.5,554.6 1158.5,556.8 1140.5,561.8 1128.5,566.3 1119.5,571.5 1114.8,576.0 1113.1,579.0 1112.4,585.0 1113.5,588.0 1119.5,593.9 1122.5,595.3 1134.5,597.7 1137.5,599.6 1139.0,603.0 1137.5,609.0 1134.8,612.0 1131.5,613.6 1113.5,620.3 1098.5,622.8 1080.5,627.6 1071.5,628.8 1041.5,630.0 1011.5,629.7 984.5,626.9 963.5,626.1 873.5,613.6 837.5,610.2 806.1,606.0 783.5,602.1 765.0,600.0 744.5,595.4 726.5,593.7 716.5,591.0 711.5,588.3 708.9,585.0 707.9,582.0 708.5,572.7 711.5,565.8 714.5,561.1 720.5,554.6 723.5,553.4 729.5,553.4 741.5,555.1 750.5,554.6 792.5,544.1 819.5,536.0 840.5,527.0 852.5,524.3 867.5,524.9 892.5,531.0 903.5,532.7 921.5,532.2 930.5,530.4 944.5,525.0 951.5,521.3 957.3,516.0 958.8,513.0 959.1,510.0 957.5,506.7 954.1,504.0 947.6,501.0 936.5,498.3 921.5,496.8 906.5,497.2 897.5,498.5 870.5,506.0 852.5,505.9 846.5,504.7 822.5,496.9 804.5,493.6 777.5,491.6 750.5,491.1 735.5,491.8 732.5,489.9 730.8,486.0 730.0,477.0 732.2,468.0 740.9,453.0 761.9,423.0 780.5,400.8 793.3,387.0 796.7,381.0 798.8,372.0 800.1,357.0 798.5,345.0 793.8,327.0 793.4,321.0 794.6,309.0 796.0,303.0 802.3,291.0 813.5,276.7 825.4,264.0 828.5,261.7 846.5,249.8 858.5,243.6 870.5,240.2 882.5,235.4 897.5,232.7 906.5,229.8 930.5,224.7 972.5,205.3ZM54.5,507.5 54.5,337.8 57.5,339.8 64.7,348.0 82.9,381.0 100.9,408.0 103.9,417.0 103.4,423.0 99.5,430.1 93.5,436.0 82.9,444.0 76.4,453.0 71.1,465.0 60.8,495.0Z"/>
<path fill="#00ccff" fill-rule="evenodd" d="M992.1,210.0 1002.5,209.9 1065.5,213.9 1140.5,219.6 1164.5,218.9 1197.5,223.6 1209.5,226.4 1227.5,232.1 1272.5,248.3 1308.0,264.0 1359.5,292.1 1377.5,305.8 1383.3,312.0 1386.9,318.0 1394.3,336.0 1398.6,351.0 1411.0,375.0 1414.6,384.0 1416.4,393.0 1416.5,399.0 1415.6,405.0 1413.5,410.5 1411.3,414.0 1407.5,418.0 1398.5,422.2 1386.5,425.0 1365.5,428.5 1344.5,433.8 1326.5,434.3 1308.5,436.9 1284.5,437.1 1257.5,438.8 1227.5,445.3 1221.5,447.7 1209.5,454.4 1200.5,457.7 1185.5,458.5 1176.5,460.8 1161.5,462.8 1146.5,463.3 1131.5,466.9 1113.5,467.7 1092.5,471.6 1077.5,472.2 1059.5,474.8 1023.5,477.7 981.5,478.8 957.5,475.2 930.5,473.7 909.5,470.8 891.5,470.8 855.5,468.9 819.6,465.0 804.5,462.5 793.4,459.0 786.5,454.6 782.7,450.0 780.9,444.0 781.6,435.0 784.7,426.0 789.4,417.0 795.5,408.0 811.3,390.0 822.0,372.0 824.6,366.0 825.7,360.0 826.1,348.0 821.9,327.0 820.8,318.0 821.0,309.0 822.4,303.0 825.5,297.0 831.0,288.0 837.5,279.4 855.5,263.5 864.5,258.0 882.5,249.2 894.5,246.5 909.5,241.0 930.5,236.0 978.5,214.1 987.5,210.8ZM1033.9,528.0 1053.5,527.8 1062.5,529.0 1068.5,531.0 1072.2,534.0 1073.8,537.0 1074.0,540.0 1073.1,543.0 1068.5,548.7 1064.1,552.0 1035.5,567.5 1029.5,568.7 1014.5,568.4 1008.5,566.7 1002.5,563.2 998.9,558.0 998.7,552.0 1001.1,546.0 1005.5,540.2 1011.5,535.5 1017.5,532.2 1026.5,529.2Z"/>
<path fill="#16ffe1" fill-rule="evenodd" d="M989.0,219.0 1002.5,218.0 1074.5,221.1 1140.5,225.5 1161.5,225.0 1170.5,225.7 1197.5,230.3 1212.5,234.2 1233.5,241.5 1269.5,255.9 1286.8,264.0 1314.5,279.0 1344.5,297.8 1354.4,306.0 1365.8,321.0 1368.4,327.0 1375.1,351.0 1381.4,369.0 1382.5,378.0 1380.5,386.8 1374.4,396.0 1368.0,402.0 1350.5,410.6 1341.5,413.5 1326.5,414.4 1308.5,416.5 1278.5,413.7 1254.5,415.8 1233.5,416.1 1227.5,417.4 1221.5,419.8 1206.5,428.5 1200.5,430.9 1185.5,431.5 1170.5,435.1 1146.5,437.7 1131.5,441.7 1113.5,442.1 1086.5,446.8 1074.5,447.2 1014.5,454.6 993.5,454.9 981.5,453.0 966.5,452.5 930.5,447.8 912.5,443.7 891.5,441.0 863.9,435.0 843.5,429.5 835.9,426.0 832.5,423.0 830.7,420.0 830.0,414.0 831.5,408.0 837.0,399.0 844.5,390.0 852.2,378.0 861.9,366.0 864.9,360.0 866.7,351.0 867.4,342.0 865.8,336.0 861.5,329.2 852.5,319.9 848.9,312.0 848.6,306.0 850.2,297.0 852.6,291.0 858.5,282.0 870.7,270.0 876.5,266.0 888.5,259.6 909.5,251.2 930.5,245.5 975.5,224.1Z"/>
<path fill="#3cffba" fill-rule="evenodd" d="M983.6,228.0 990.5,225.8 1002.5,225.1 1074.5,227.1 1110.5,229.5 1128.5,229.9 1140.5,231.3 1164.5,230.9 1203.5,238.1 1215.5,241.7 1233.5,248.6 1263.5,261.8 1284.7,273.0 1314.4,291.0 1334.6,306.0 1339.1,312.0 1343.6,321.0 1349.2,336.0 1355.5,366.0 1354.8,375.0 1353.1,381.0 1349.4,387.0 1342.1,393.0 1335.5,396.4 1326.5,399.1 1305.5,401.8 1278.5,398.3 1272.5,398.6 1257.5,402.1 1242.5,400.4 1230.5,401.2 1221.5,403.5 1200.5,413.8 1182.5,415.0 1158.5,419.1 1140.5,423.2 1110.5,422.1 1077.5,425.0 1056.5,424.3 1041.5,425.4 1023.5,428.1 999.5,429.2 981.5,426.2 969.5,426.9 963.5,426.3 930.5,419.6 902.3,411.0 887.7,402.0 885.0,399.0 882.1,393.0 881.2,387.0 882.4,378.0 894.7,342.0 896.0,336.0 896.0,330.0 893.3,324.0 878.6,309.0 874.2,303.0 872.2,297.0 872.0,294.0 873.5,288.0 876.5,282.7 880.0,279.0 899.5,267.0 912.5,261.1 930.5,255.0Z"/>
<path fill="#66ff90" fill-rule="evenodd" d="M986.7,234.0 993.5,232.2 999.5,231.9 1065.5,232.8 1128.5,235.5 1140.5,236.8 1164.5,236.7 1197.5,242.8 1218.5,249.4 1244.7,261.0 1267.8,273.0 1305.4,297.0 1318.9,309.0 1325.5,318.0 1331.3,330.0 1333.3,336.0 1334.8,345.0 1335.8,357.0 1334.9,366.0 1332.9,372.0 1329.2,378.0 1323.5,383.4 1302.5,390.8 1296.5,390.7 1287.5,388.3 1278.5,387.8 1272.5,388.5 1257.5,393.9 1242.5,391.0 1233.5,391.8 1221.5,393.9 1200.5,402.5 1194.5,404.2 1161.5,406.9 1140.5,412.1 1116.5,409.9 1098.5,410.0 1080.5,411.5 1047.5,409.7 1020.5,411.4 999.5,410.9 984.5,409.6 969.5,409.3 936.9,402.0 924.5,395.8 920.6,393.0 914.9,387.0 910.2,378.0 909.0,372.0 908.9,366.0 909.9,360.0 913.0,354.0 918.5,349.7 933.3,342.0 936.5,339.0 939.5,334.6 941.5,330.0 942.0,324.0 939.5,318.2 936.2,315.0 918.5,306.1 910.4,300.0 906.4,294.0 906.0,288.0 906.9,285.0 911.0,279.0 918.1,273.0Z"/>
<path fill="#90ff66" fill-rule="evenodd" d="M997.4,240.0 1074.5,238.7 1128.5,241.0 1140.5,242.2 1161.5,242.1 1179.5,244.8 1197.5,248.9 1209.5,252.7 1229.0,261.0 1257.3,276.0 1275.8,288.0 1299.8,306.0 1311.4,321.0 1317.2,333.0 1319.4,345.0 1319.0,351.0 1317.3,357.0 1314.6,363.0 1310.2,369.0 1305.5,373.3 1299.5,376.2 1275.5,379.1 1268.7,381.0 1257.5,385.8 1254.5,385.7 1248.5,383.1 1242.5,382.8 1218.5,387.5 1194.5,395.7 1185.5,397.6 1161.5,397.5 1137.5,401.7 1122.5,400.7 1065.5,399.9 1038.5,398.2 1008.5,398.1 996.5,397.1 975.5,393.4 963.6,390.0 950.3,384.0 942.8,378.0 938.6,372.0 937.1,366.0 937.3,363.0 940.7,357.0 963.5,334.9 969.5,330.9 985.8,324.0 990.5,320.9 995.1,315.0 996.1,309.0 993.5,302.7 987.5,298.0 978.5,295.7 954.5,293.3 944.1,291.0 939.0,288.0 937.8,285.0 938.4,282.0 943.9,276.0 977.4,249.0 987.5,242.5Z"/>
<path fill="#baff3c" fill-rule="evenodd" d="M1048.7,246.0 1077.5,244.9 1140.5,247.6 1161.5,247.6 1179.5,250.5 1194.5,254.2 1205.4,258.0 1224.5,266.8 1245.9,279.0 1266.5,293.2 1285.2,309.0 1295.3,321.0 1299.9,330.0 1301.7,336.0 1302.6,342.0 1301.1,351.0 1295.1,360.0 1290.5,363.7 1284.5,366.5 1257.5,373.0 1245.5,372.8 1236.5,376.2 1221.5,379.0 1191.5,389.4 1182.5,391.2 1158.5,390.1 1137.5,393.5 1092.5,392.8 1026.5,387.1 1008.5,387.7 1002.5,386.7 996.5,384.5 982.7,378.0 973.6,372.0 969.0,366.0 968.0,363.0 968.3,357.0 971.4,351.0 975.5,346.9 999.5,331.6 1008.9,324.0 1015.7,315.0 1017.8,309.0 1017.9,306.0 1016.1,300.0 1009.4,291.0 1002.5,285.1 990.5,277.1 987.5,273.6 985.9,270.0 986.5,264.0 990.5,258.0 995.2,255.0 999.5,253.6ZM1074.5,287.2 1066.6,291.0 1061.0,297.0 1059.8,300.0 1059.8,303.0 1060.9,306.0 1063.6,309.0 1068.5,312.1 1074.5,313.7 1092.5,309.2 1098.5,306.0 1100.5,303.0 1100.9,300.0 1099.9,297.0 1097.3,294.0 1092.9,291.0 1086.5,288.4 1080.5,287.1Z"/>
<path fill="#e4ff13" fill-rule="evenodd" d="M1050.5,256.5 1077.5,254.0 1110.5,254.4 1128.5,253.3 1158.5,253.2 1173.8,255.0 1194.5,261.3 1212.5,270.3 1234.4,285.0 1251.5,301.4 1271.1,318.0 1276.0,324.0 1280.4,333.0 1281.6,339.0 1280.7,345.0 1278.5,348.4 1275.5,350.3 1260.5,353.0 1248.5,359.4 1236.5,362.3 1221.5,368.5 1203.5,378.5 1188.5,383.6 1182.5,384.5 1170.5,383.2 1152.5,383.8 1146.5,384.4 1137.5,386.8 1125.5,386.1 1113.5,387.2 1101.5,385.6 1089.5,385.9 1068.5,383.4 1056.5,380.9 1041.5,379.5 1023.5,375.3 1011.5,373.6 1005.5,371.5 1002.1,369.0 998.1,363.0 997.2,360.0 997.4,357.0 999.2,354.0 1013.6,342.0 1026.5,333.9 1032.5,331.0 1050.5,325.2 1059.5,324.7 1074.5,326.2 1080.5,324.9 1089.5,321.5 1116.5,315.3 1122.5,314.7 1137.5,314.9 1145.5,312.0 1148.7,309.0 1149.5,306.0 1148.8,303.0 1146.5,299.5 1140.5,293.9 1135.1,291.0 1119.5,286.0 1095.5,274.7 1083.5,271.8 1071.5,271.5 1065.5,272.0 1047.5,275.8 1041.5,275.9 1035.5,274.2 1033.5,273.0 1031.3,270.0 1031.1,267.0 1032.4,264.0 1035.9,261.0 1038.5,259.9Z"/>
<path fill="#ffde00" fill-rule="evenodd" d="M1135.5,264.0 1143.5,262.0 1155.5,261.1 1174.2,264.0 1185.6,270.0 1192.8,276.0 1200.3,285.0 1201.8,291.0 1200.5,293.3 1197.5,294.1 1194.5,293.6 1188.5,291.2 1170.5,281.1 1139.1,273.0 1134.2,270.0 1133.0,267.0ZM1202.7,324.0 1212.5,321.4 1218.5,321.8 1239.3,330.0 1245.5,334.4 1246.7,339.0 1245.8,342.0 1242.3,345.0 1236.5,346.6 1230.5,349.5 1222.5,357.0 1201.2,372.0 1185.5,377.1 1170.5,376.2 1161.5,377.8 1146.5,377.2 1134.5,379.3 1122.5,378.8 1113.5,379.6 1101.5,377.6 1088.7,378.0 1044.3,369.0 1037.5,366.0 1032.8,363.0 1030.0,360.0 1028.9,357.0 1029.3,354.0 1031.4,351.0 1039.2,345.0 1050.5,339.4 1059.5,336.8 1077.5,335.3 1095.5,330.6 1110.5,328.5 1122.5,328.7 1137.5,332.4 1158.5,327.6 1191.5,325.7Z"/>
<path fill="#ffae00" fill-rule="evenodd" d="M1104.6,342.0 1119.5,340.1 1140.5,341.8 1158.5,340.0 1167.5,340.0 1188.5,342.0 1197.5,343.9 1200.9,345.0 1205.5,348.0 1206.7,351.0 1205.0,354.0 1197.6,360.0 1185.5,365.8 1179.5,367.6 1161.5,370.7 1143.5,370.0 1131.5,371.5 1113.5,369.8 1101.5,366.6 1086.5,366.3 1074.5,363.0 1064.2,357.0 1063.4,354.0 1066.6,351.0 1071.5,349.1Z"/>
<path fill="#ff7e00" fill-rule="evenodd" d="M1127.7,354.0 1134.5,353.9 1140.5,354.9 1152.5,354.2 1161.5,355.5 1164.9,357.0 1149.5,359.6 1140.5,358.8 1131.5,360.6 1128.0,360.0 1124.7,357.0Z"/>
<use href="#coast"/>
</g>
<rect class="f" x="78.5" y="0" width="1331.0" height="655.9"/>
<rect x="78.50" y="699.0" width="67.15" height="65.7" fill="#00009b"/>
<rect x="145.05" y="699.0" width="67.15" height="65.7" fill="#0000d6"/>
<rect x="211.60" y="699.0" width="67.15" height="65.7" fill="#0000ff"/>
<rect x="278.15" y="699.0" width="67.15" height="65.7" fill="#0030ff"/>
<rect x="344.70" y="699.0" width="67.15" height="65.7" fill="#0064ff"/>
<rect x="411.25" y="699.0" width="67.15" height="65.7" fill="#0098ff"/>
<rect x="477.80" y="699.0" width="67.15" height="65.7" fill="#00ccff"/>
<rect x="544.35" y="699.0" width="67.15" height="65.7" fill="#16ffe1"/>
<rect x="610.90" y="699.0" width="67.15" height="65.7" fill="#3cffba"/>
<rect x="677.45" y="699.0" width="67.15" height="65.7" fill="#66ff90"/>
<rect x="744.00" y="699.0" width="67.15" height="65.7" fill="#90ff66"/>
<rect x="810.55" y="699.0" width="67.15" height="65.7" fill="#baff3c"/>
<rect x="877.10" y="699.0" width="67.15" height="65.7" fill="#e4ff13"/>
<rect x="943.65" y="699.0" width="67.15" height="65.7" fill="#ffde00"/>
<rect x="1010.20" y="699.0" width="67.15" height="65.7" fill="#ffae00"/>
<rect x="1076.75" y="699.0" width="67.15" height="65.7" fill="#ff7e00"/>
<rect x="1143.30" y="699.0" width="67.15" height="65.7" fill="#ff4e00"/>
<rect x="1209.85" y="699.0" width="67.15" height="65.7" fill="#ff1e00"/>
<rect x="1276.40" y="699.0" width="67.15" height="65.7" fill="#d60000"/>
<rect x="1342.95" y="699.0" width="66.55" height="65.7" fill="#9b0000"/>
<rect class="f" x="78.5" y="699.0" width="1331.0" height="65.7"/>
<line class="tk" x1="78.5" y1="764.7" x2="78.5" y2="780.9"/>
<text class="k" x="78.5" y="826.9">0.0</text>
<line class="tk" x1="278.1" y1="764.7" x2="278.1" y2="780.9"/>
<text class="k" x="278.1" y="826.9">7.5</text>
<line class="tk" x1="477.8" y1="764.7" x2="477.8" y2="780.9"/>
<text class="k" x="477.8" y="826.9">15.0</text>
<line class="tk" x1="677.5" y1="764.7" x2="677.5" y2="780.9"/>
<text class="k" x="677.5" y="826.9">22.5</text>
<line class="tk" x1="877.1" y1="764.7" x2="877.1" y2="780.9"/>
<text class="k" x="877.1" y="826.9">30.0</text>
<line class="tk" x1="1076.8" y1="764.7" x2="1076.8" y2="780.9"/>
<text class="k" x="1076.8" y="826.9">37.5</text>
<line class="tk" x1="1276.4" y1="764.7" x2="1276.4" y2="780.9"/>
<text class="k" x="1276.4" y="826.9">45.0</text>
</g>
<g transform="translate(0,2102.2)">
<text class="t" x="744" y="-25.3">Plasmasphere (h=1500.0 km), 2021-12-06 07:00 UT</text>
<g clip-path="url(#mc)">
<rect x="78.5" y="0" width="1331.0" height="655.9" fill="#0000df"/>
<path fill="#0080ff" d="M38.5,134.9C50.4,101.7 65.8,133.6 80.0,134.9C94.2,136.2 107.4,139.7 123.6,142.8C139.8,145.9 159.2,150.2 177.1,153.5C194.9,156.8 212.8,159.7 230.7,162.4C248.6,165.1 266.4,167.5 284.3,169.6C302.2,171.7 320.0,173.4 337.9,174.9C355.8,176.4 373.5,177.5 391.4,178.5C409.2,179.5 427.1,180.7 445.0,181.0C462.9,181.3 486.1,180.4 498.6,180.3C511.1,180.2 510.5,179.7 520.0,180.3C529.5,180.9 543.8,182.7 555.7,183.9C567.6,185.1 579.5,186.8 591.4,187.4C603.3,188.0 615.2,188.9 627.1,187.4C639.0,185.9 651.0,181.8 662.9,178.5C674.8,175.2 686.7,170.5 698.6,167.8C710.5,165.1 722.4,163.6 734.3,162.4C746.2,161.2 758.1,161.1 770.0,160.7C781.9,160.3 793.8,160.2 805.7,159.9C817.6,159.6 829.5,159.3 841.4,158.9C853.3,158.6 865.2,158.2 877.1,157.8C889.0,157.4 901.0,157.0 912.9,156.4C924.8,155.8 939.1,154.8 948.6,154.2C958.1,153.6 960.5,152.9 970.0,152.8C979.5,152.7 993.8,152.9 1005.7,153.5C1017.6,154.1 1029.5,154.7 1041.4,156.4C1053.3,158.1 1066.4,161.6 1077.1,163.5C1087.8,165.4 1096.8,166.8 1105.7,167.8C1114.6,168.8 1122.4,169.7 1130.7,169.6C1139.0,169.5 1146.8,168.9 1155.7,167.1C1164.6,165.3 1173.6,161.8 1184.3,158.9C1195.0,156.0 1208.1,152.3 1220.0,149.9C1231.9,147.5 1243.8,145.8 1255.7,144.6C1267.6,143.4 1279.5,143.6 1291.4,142.8C1303.3,142.0 1315.2,141.1 1327.1,139.9C1339.0,138.7 1349.3,136.7 1362.9,135.7C1376.5,134.7 1394.2,134.2 1408.6,133.9C1423.0,133.6 1437.7,100.6 1449.5,133.9C1461.3,167.2 1479.5,267.1 1479.5,333.7C1479.5,400.3 1461.3,500.2 1449.5,533.5C1437.7,566.8 1420.1,533.2 1408.6,533.5C1397.1,533.8 1390.1,534.8 1380.7,535.3C1371.3,535.8 1360.4,536.7 1352.1,536.4C1343.8,536.1 1336.3,535.5 1330.7,533.5C1325.1,531.5 1321.8,528.2 1318.2,524.6C1314.6,521.0 1312.6,516.6 1309.3,512.1C1306.0,507.6 1302.8,502.3 1298.6,497.8C1294.4,493.3 1290.2,489.0 1284.3,485.3C1278.3,481.6 1270.6,477.8 1262.9,475.7C1255.2,473.6 1246.2,473.0 1237.9,472.8C1229.6,472.6 1221.8,473.7 1212.9,474.6C1204.0,475.5 1195.0,477.2 1184.3,478.2C1173.6,479.2 1160.5,480.4 1148.6,480.7C1136.7,481.0 1123.6,480.2 1112.9,479.9C1102.2,479.6 1093.8,479.1 1084.3,478.9C1074.8,478.7 1065.2,478.4 1055.7,478.9C1046.2,479.4 1036.6,480.0 1027.1,481.7C1017.6,483.4 1008.1,486.5 998.6,488.9C989.1,491.3 978.3,494.3 970.0,496.0C961.7,497.7 956.3,498.6 948.6,498.9C940.9,499.2 931.9,499.1 923.6,497.8C915.3,496.6 907.5,494.1 898.6,491.4C889.7,488.7 879.5,484.7 870.0,481.7C860.5,478.7 850.9,475.3 841.4,473.5C831.9,471.7 821.8,471.0 812.9,471.0C804.0,471.0 796.2,472.0 787.9,473.5C779.6,475.0 771.8,477.0 762.9,479.9C754.0,482.8 743.8,486.8 734.3,490.7C724.8,494.6 714.6,499.0 705.7,503.2C696.8,507.4 689.0,511.7 680.7,515.7C672.4,519.7 664.0,524.4 655.7,527.1C647.4,529.8 639.0,531.2 630.7,531.7C622.4,532.2 614.6,530.8 605.7,529.9C596.8,529.0 586.6,527.6 577.1,526.4C567.6,525.2 558.1,523.9 548.6,522.8C539.1,521.7 531.3,520.5 520.0,519.9C508.7,519.3 493.2,519.0 480.7,519.2C468.2,519.4 456.9,520.1 445.0,521.0C433.1,521.9 421.2,523.2 409.3,524.6C397.4,526.0 385.5,527.6 373.6,529.2C361.7,530.8 349.8,532.2 337.9,534.2C326.0,536.2 313.4,539.1 302.1,541.4C290.8,543.7 280.1,546.1 270.0,547.8C259.9,549.5 250.9,550.7 241.4,551.4C231.9,552.1 223.0,552.6 212.9,552.1C202.8,551.6 190.8,549.9 180.7,548.5C170.6,547.1 161.6,545.3 152.1,543.5C142.6,541.7 132.5,539.4 123.6,537.8C114.7,536.3 105.9,534.9 98.6,534.2C91.3,533.5 90.0,533.6 80.0,533.5C70.0,533.4 50.4,566.7 38.5,533.5C26.6,500.3 8.5,400.6 8.5,334.2C8.5,267.8 26.6,168.1 38.5,134.9Z"/>
<path fill="#36ffc1" d="M38.5,171.4C50.4,145.5 65.8,170.3 80.0,171.4C94.2,172.5 107.4,175.1 123.6,177.8C139.8,180.5 159.2,184.6 177.1,187.4C194.9,190.2 215.8,192.6 230.7,194.6C245.6,196.6 254.5,197.6 266.4,199.2C278.3,200.8 290.2,202.9 302.1,204.2C314.0,205.5 326.0,206.2 337.9,207.1C349.8,208.1 361.7,208.7 373.6,209.9C385.5,211.1 397.4,212.8 409.3,214.2C421.2,215.6 433.1,217.6 445.0,218.5C456.9,219.4 468.2,219.5 480.7,219.6C493.2,219.7 510.5,218.5 520.0,218.9C529.5,219.3 531.9,220.2 537.9,222.1C543.9,224.0 549.8,226.9 555.7,230.3C561.7,233.8 568.5,237.7 573.6,242.8C578.7,247.9 582.5,254.8 586.1,260.7C589.7,266.7 591.7,273.2 595.0,278.5C598.3,283.8 601.5,288.9 605.7,292.8C609.9,296.7 615.2,299.8 620.0,301.7C624.8,303.6 628.9,304.5 634.3,304.2C639.6,303.9 646.1,302.7 652.1,299.9C658.1,297.1 664.6,291.9 670.0,287.4C675.4,283.0 679.5,278.9 684.3,273.2C689.1,267.6 693.8,259.2 698.6,253.5C703.4,247.8 708.1,243.4 712.9,239.2C717.6,235.0 721.1,231.2 727.1,228.5C733.1,225.8 741.5,224.4 748.6,223.2C755.8,222.0 760.5,221.7 770.0,221.4C779.5,221.1 793.8,222.0 805.7,221.4C817.6,220.8 829.5,219.6 841.4,217.8C853.3,216.0 865.2,213.4 877.1,210.7C889.0,208.0 901.0,204.0 912.9,201.7C924.8,199.4 939.1,197.9 948.6,197.1C958.1,196.3 963.5,196.6 970.0,197.1C976.5,197.6 981.9,197.9 987.9,199.9C993.9,201.9 999.8,205.3 1005.7,208.9C1011.7,212.5 1017.6,217.7 1023.6,221.4C1029.5,225.2 1033.7,228.7 1041.4,231.4C1049.1,234.1 1059.3,236.0 1070.0,237.4C1080.7,238.8 1095.6,239.1 1105.7,239.9C1115.8,240.7 1122.4,241.0 1130.7,242.1C1139.0,243.2 1148.0,244.5 1155.7,246.4C1163.4,248.3 1169.9,250.8 1177.1,253.5C1184.2,256.2 1194.4,260.7 1198.6,262.4C1202.8,264.1 1199.3,263.0 1202.2,263.9C1205.1,264.8 1212.3,267.5 1216.2,267.9C1220.1,268.3 1222.6,267.8 1225.5,266.2C1228.4,264.6 1231.8,261.0 1233.7,258.1C1235.7,255.2 1236.6,252.3 1237.2,248.8C1237.8,245.3 1237.8,242.9 1237.2,237.1C1236.6,231.3 1232.9,220.1 1233.6,214.2C1234.3,208.3 1237.7,205.3 1241.4,201.7C1245.1,198.1 1249.8,195.2 1255.7,192.8C1261.7,190.4 1268.2,188.7 1277.1,187.4C1286.0,186.1 1298.0,186.1 1309.3,184.9C1320.6,183.7 1333.1,182.1 1345.0,180.3C1356.9,178.5 1370.1,175.8 1380.7,174.2C1391.3,172.6 1397.1,171.3 1408.6,170.7C1420.1,170.1 1437.7,145.2 1449.5,170.7C1461.3,196.2 1479.5,272.6 1479.5,323.6C1479.5,374.5 1461.3,450.9 1449.5,476.4C1437.7,501.9 1417.1,476.7 1408.6,476.4C1400.1,476.1 1403.8,475.9 1398.6,474.6C1393.3,473.3 1384.2,471.2 1377.1,468.5C1369.9,465.8 1362.8,462.2 1355.7,458.5C1348.6,454.8 1341.4,450.0 1334.3,446.0C1327.2,442.0 1320.1,437.2 1312.9,434.2C1305.8,431.2 1300.9,430.2 1291.4,428.2C1281.9,426.2 1267.6,423.9 1255.7,422.1C1243.8,420.3 1231.9,418.8 1220.0,417.4C1208.1,416.0 1196.2,415.3 1184.3,413.9C1172.4,412.5 1160.5,410.8 1148.6,409.2C1136.7,407.6 1123.6,405.6 1112.9,404.2C1102.2,402.8 1093.8,401.3 1084.3,400.7C1074.8,400.1 1065.2,399.9 1055.7,400.7C1046.2,401.5 1036.6,403.8 1027.1,405.7C1017.6,407.6 1008.1,410.4 998.6,412.1C989.1,413.8 978.3,415.1 970.0,415.7C961.7,416.3 958.1,415.5 948.6,415.7C939.1,415.9 924.8,416.1 912.9,416.7C901.0,417.3 889.0,418.6 877.1,419.2C865.2,419.8 856.3,420.1 841.4,420.3C826.5,420.6 803.4,420.7 787.9,420.7C772.4,420.7 758.1,420.9 748.6,420.3C739.1,419.8 736.7,419.1 730.7,417.4C724.8,415.7 718.9,412.9 712.9,410.3C706.9,407.8 701.0,403.9 695.0,402.1C689.0,400.3 683.1,399.3 677.1,399.6C671.1,400.0 665.2,401.7 659.3,404.2C653.3,406.8 647.9,409.4 641.4,414.9C634.9,420.4 626.5,430.4 620.0,437.1C613.5,443.8 608.1,449.9 602.1,454.9C596.1,460.0 590.8,463.9 584.3,467.4C577.8,470.9 570.0,473.6 562.9,475.7C555.8,477.8 548.5,478.8 541.4,479.9C534.2,481.0 527.1,481.8 520.0,482.4C512.9,483.0 508.1,482.8 498.6,483.5C489.1,484.2 474.8,485.3 462.9,486.4C451.0,487.5 442.0,488.5 427.1,489.9C412.2,491.3 391.5,493.6 373.6,494.9C355.8,496.2 337.9,496.9 320.0,497.8C302.1,498.7 281.3,499.7 266.4,500.3C251.5,500.9 240.8,501.4 230.7,501.4C220.6,501.4 214.6,501.0 205.7,500.3C196.8,499.6 187.8,498.6 177.1,497.1C166.4,495.6 153.3,493.4 141.4,491.4C129.5,489.4 115.9,486.9 105.7,485.3C95.5,483.7 91.2,482.3 80.0,481.7C68.8,481.1 50.4,507.6 38.5,481.7C26.6,455.8 8.5,378.3 8.5,326.6C8.5,274.8 26.6,197.3 38.5,171.4Z"/>
<path fill="#c1ff36" d="M38.5,213.5C50.4,194.1 68.8,213.1 80.0,213.5C91.2,213.9 96.7,214.4 105.7,216.0C114.8,217.6 125.4,221.1 134.3,223.2C143.2,225.3 150.4,227.4 159.3,228.5C168.2,229.6 177.8,229.3 187.9,229.6C198.0,229.9 209.9,229.6 220.0,230.3C230.1,231.0 237.9,231.5 248.6,233.9C259.3,236.3 272.4,241.3 284.3,244.6C296.2,247.9 308.1,251.1 320.0,253.5C331.9,255.9 343.8,256.6 355.7,258.9C367.6,261.2 379.5,264.7 391.4,267.1C403.3,269.5 415.2,271.6 427.1,273.2C439.0,274.8 452.2,275.2 462.9,276.7C473.6,278.2 483.7,279.7 491.4,282.1C499.1,284.5 504.5,286.8 509.3,291.0C514.1,295.2 517.1,300.9 520.0,307.1C522.9,313.4 525.0,322.9 526.4,328.5C527.8,334.1 528.7,336.0 528.2,340.7C527.7,345.4 525.9,352.3 523.6,356.7C521.3,361.2 518.8,364.4 514.6,367.4C510.4,370.4 504.9,372.5 498.6,374.6C492.4,376.7 484.2,377.9 477.1,379.9C470.0,381.9 462.2,384.0 455.7,386.4C449.2,388.8 443.2,391.4 437.9,394.2C432.5,397.0 427.2,400.2 423.6,403.2C420.0,406.2 418.2,408.5 416.4,412.1C414.6,415.7 414.4,420.4 412.9,424.6C411.4,428.8 409.9,433.5 407.5,437.1C405.1,440.7 402.5,443.3 398.6,446.0C394.7,448.7 390.2,451.2 384.3,453.2C378.4,455.2 370.6,456.8 362.9,457.8C355.2,458.8 348.0,458.6 337.9,459.2C327.8,459.8 314.0,460.3 302.1,461.4C290.2,462.5 278.3,464.6 266.4,465.7C254.5,466.8 240.8,467.9 230.7,468.2C220.6,468.5 214.6,468.0 205.7,467.4C196.8,466.9 187.8,466.4 177.1,464.9C166.4,463.4 153.3,460.8 141.4,458.5C129.5,456.2 115.9,453.5 105.7,451.4C95.5,449.3 91.2,446.9 80.0,446.0C68.8,445.1 50.4,465.4 38.5,446.0C26.6,426.6 8.5,368.5 8.5,329.8C8.5,291.0 26.6,232.9 38.5,213.5Z"/>
<path fill="#c1ff36" d="M862.1,332.8C860.6,330.4 862.1,333.3 864.6,331.4C867.1,329.5 871.4,325.5 877.1,321.4C882.8,317.4 891.5,311.6 898.6,307.1C905.8,302.6 912.9,298.5 920.0,294.6C927.1,290.7 933.1,287.3 941.4,283.9C949.7,280.5 959.3,275.4 970.0,274.2C980.7,273.0 993.8,276.1 1005.7,276.7C1017.6,277.3 1030.7,278.7 1041.4,277.8C1052.1,276.9 1061.1,273.1 1070.0,271.4C1078.9,269.7 1086.1,268.1 1095.0,267.8C1103.9,267.5 1115.4,268.9 1123.6,269.6C1131.8,270.3 1137.9,270.5 1144.0,272.1C1150.1,273.7 1154.9,276.1 1160.3,279.0C1165.7,281.9 1171.9,286.0 1176.6,289.5C1181.2,293.0 1184.9,296.3 1188.2,300.0C1191.5,303.7 1194.3,307.8 1196.4,311.7C1198.5,315.6 1200.4,319.0 1201.0,323.3C1201.6,327.6 1200.7,332.6 1199.9,337.3C1199.1,342.0 1198.4,347.4 1196.4,351.3C1194.5,355.2 1191.9,358.1 1188.2,360.6C1184.5,363.1 1179.3,364.9 1174.3,366.4C1169.3,368.0 1163.0,369.1 1158.0,369.9C1153.0,370.7 1148.0,370.9 1144.0,371.1C1140.0,371.3 1140.7,371.4 1134.3,371.0C1127.9,370.6 1115.2,369.7 1105.7,368.5C1096.2,367.3 1086.6,365.1 1077.1,363.9C1067.6,362.7 1057.5,361.4 1048.6,361.4C1039.7,361.4 1031.9,362.6 1023.6,363.9C1015.3,365.2 1007.5,367.7 998.6,369.2C989.7,370.7 978.3,373.1 970.0,372.8C961.7,372.5 956.9,369.3 948.6,367.4C940.3,365.5 928.9,363.6 920.0,361.4C911.1,359.2 902.7,356.8 895.0,354.2C887.3,351.6 879.1,349.6 873.6,346.0C868.1,342.4 863.6,335.2 862.1,332.8Z"/>
<path fill="#c1ff36" d="M1449.5,217.1C1437.7,198.7 1417.7,215.8 1408.6,217.1C1399.5,218.4 1399.9,221.6 1395.0,224.9C1390.1,228.2 1383.0,232.7 1379.2,237.1C1375.4,241.5 1374.6,246.1 1372.3,251.1C1370.0,256.2 1368.4,262.4 1365.3,267.4C1362.2,272.5 1358.6,277.1 1353.6,281.4C1348.5,285.7 1341.2,289.5 1335.0,293.0C1328.8,296.5 1322.5,299.0 1316.3,302.3C1310.1,305.6 1303.1,309.1 1297.7,312.8C1292.3,316.5 1288.0,320.8 1283.7,324.5C1279.4,328.2 1275.0,331.7 1272.1,335.0C1269.2,338.3 1267.1,341.2 1266.3,344.3C1265.5,347.4 1266.2,350.5 1267.4,353.6C1268.6,356.7 1270.2,359.8 1273.3,362.9C1276.4,366.0 1280.9,369.7 1286.1,372.2C1291.3,374.7 1297.7,375.7 1304.7,378.0C1311.7,380.3 1321.0,383.3 1328.0,386.2C1335.0,389.1 1340.8,392.0 1346.6,395.5C1352.4,399.0 1357.9,403.3 1362.9,407.2C1368.0,411.1 1372.2,415.3 1376.9,418.8C1381.6,422.3 1385.7,425.0 1390.9,428.1C1396.1,431.2 1398.1,435.9 1407.9,437.4C1417.7,439.0 1437.6,455.8 1449.5,437.4C1461.4,419.0 1479.5,364.0 1479.5,327.2C1479.5,290.5 1461.3,235.5 1449.5,217.1Z"/>
<path fill="#ff9400" d="M38.5,336.4C50.4,330.8 70.6,337.2 80.0,336.4C89.4,335.6 88.9,332.3 95.0,331.7C101.1,331.1 108.7,331.8 116.4,332.8C124.1,333.8 132.5,336.2 141.4,337.8C150.3,339.4 160.5,341.8 170.0,342.4C179.5,343.0 189.7,341.8 198.6,341.4C207.5,341.0 216.5,339.7 223.6,339.9C230.7,340.1 236.7,340.5 241.4,342.4C246.2,344.3 249.1,347.8 252.1,351.4C255.1,355.0 257.4,358.9 259.3,363.9C261.2,369.0 263.1,375.8 263.6,381.7C264.1,387.7 263.4,394.5 262.1,399.6C260.8,404.7 258.6,408.5 255.7,412.1C252.8,415.7 249.8,418.5 245.0,421.0C240.2,423.5 233.7,425.7 227.1,427.1C220.5,428.5 212.8,429.0 205.7,429.2C198.6,429.4 192.0,429.0 184.3,428.2C176.6,427.4 167.6,426.0 159.3,424.6C151.0,423.2 142.6,421.7 134.3,419.9C126.0,418.1 116.5,415.8 109.3,413.9C102.1,412.0 96.3,410.1 91.4,408.5C86.5,406.9 88.8,404.9 80.0,404.2C71.2,403.5 50.4,409.9 38.5,404.2C26.6,398.6 8.5,381.6 8.5,370.3C8.5,359.0 26.6,342.1 38.5,336.4Z"/>
<path fill="#ff9400" d="M1077.1,316.0C1076.5,311.3 1080.7,306.9 1084.3,303.5C1087.9,300.1 1093.2,297.4 1098.6,295.7C1103.9,294.0 1110.5,293.3 1116.4,293.5C1122.4,293.7 1128.9,294.8 1134.3,297.1C1139.7,299.4 1145.3,303.4 1148.6,307.1C1151.9,310.9 1153.3,315.8 1153.9,319.6C1154.5,323.4 1154.2,327.0 1152.1,329.9C1150.0,332.8 1146.2,335.3 1141.4,337.1C1136.7,338.9 1129.5,340.4 1123.6,340.7C1117.6,341.0 1111.7,340.4 1105.7,338.9C1099.8,337.4 1092.7,335.5 1087.9,331.7C1083.1,327.9 1077.7,320.7 1077.1,316.0Z"/>
<path fill="#0080ff" d="M1245.0,571.0C1244.4,570.4 1249.6,569.5 1252.1,569.2C1254.6,568.9 1258.1,568.8 1260.0,569.2C1261.9,569.6 1264.3,571.1 1263.6,571.7C1262.9,572.3 1258.8,572.9 1255.7,572.8C1252.6,572.7 1245.6,571.6 1245.0,571.0Z"/>
<use href="#coast"/>
</g>
<rect class="f" x="78.5" y="0" width="1331.0" height="655.9"/>
<rect x="78.50" y="699.0" width="222.43" height="65.7" fill="#0000df"/>
<rect x="300.33" y="699.0" width="222.43" height="65.7" fill="#0080ff"/>
<rect x="522.17" y="699.0" width="222.43" height="65.7" fill="#36ffc1"/>
<rect x="744.00" y="699.0" width="222.43" height="65.7" fill="#c1ff36"/>
<rect x="965.83" y="699.0" width="222.43" height="65.7" fill="#ff9400"/>
<rect x="1187.67" y="699.0" width="221.83" height="65.7" fill="#df0000"/>
<rect class="f" x="78.5" y="699.0" width="1331.0" height="65.7"/>
<line class="tk" x1="78.5" y1="764.7" x2="78.5" y2="780.9"/>
<text class="k" x="78.5" y="826.9">0.0</text>
<line class="tk" x1="300.3" y1="764.7" x2="300.3" y2="780.9"/>
<text class="k" x="300.3" y="826.9">2.5</text>
<line class="tk" x1="522.2" y1="764.7" x2="522.2" y2="780.9"/>
<text class="k" x="522.2" y="826.9">5.0</text>
<line class="tk" x1="744.0" y1="764.7" x2="744.0" y2="780.9"/>
<text class="k" x="744.0" y="826.9">7.5</text>
<line class="tk" x1="965.8" y1="764.7" x2="965.8" y2="780.9"/>
<text class="k" x="965.8" y="826.9">10.0</text>
<line class="tk" x1="1187.7" y1="764.7" x2="1187.7" y2="780.9"/>
<text class="k" x="1187.7" y="826.9">12.5</text>
<line class="tk" x1="1409.5" y1="764.7" x2="1409.5" y2="780.9"/>
<text class="k" x="1409.5" y="826.9">15.0</text>
</g>
</svg></body></html>
